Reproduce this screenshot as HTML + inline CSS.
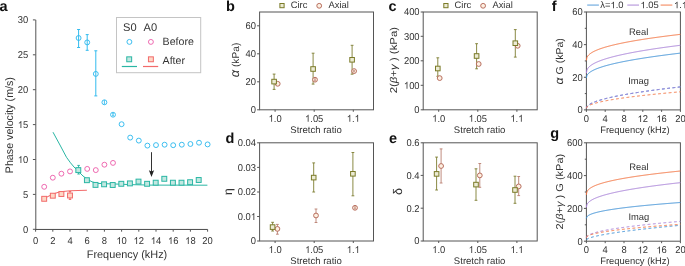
<!DOCTYPE html>
<html><head><meta charset="utf-8"><style>
html,body{margin:0;padding:0;background:#fff;overflow:hidden;width:685px;height:266px;}
svg{display:block;will-change:transform;text-rendering:geometricPrecision;}
text{font-family:"Liberation Sans",sans-serif;}
</style></head><body>
<svg width="685" height="266" viewBox="0 0 685 266" font-family="Liberation Sans, sans-serif">
<rect width="685" height="266" fill="#fff"/>
<text x="-0.50" y="10.80" font-size="14.5" text-anchor="start" fill="#111" font-weight="bold" >a</text>
<line x1="35.80" y1="19.90" x2="35.80" y2="229.95" stroke="#555" stroke-width="1" />
<line x1="35.30" y1="229.45" x2="207.60" y2="229.45" stroke="#4a4a4a" stroke-width="1" />
<line x1="32.90" y1="229.30" x2="35.60" y2="229.30" stroke="#555" stroke-width="1" />
<text x="0" y="0" font-size="9.9" fill="#333" transform="translate(23.07 232.71) scale(0.95 1)">0</text>
<line x1="32.90" y1="194.40" x2="35.60" y2="194.40" stroke="#555" stroke-width="1" />
<text x="0" y="0" font-size="9.9" fill="#333" transform="translate(23.07 197.81) scale(0.95 1)">5</text>
<line x1="32.90" y1="159.50" x2="35.60" y2="159.50" stroke="#555" stroke-width="1" />
<path d="M763 0L583 0L583 1115Q518 1055 413 995Q308 935 224 905L224 1075Q375 1145 488 1243Q601 1340 648 1430L763 1430Z" fill="#333" transform="translate(17.84 162.91) scale(0.00459 -0.00483)"/>
<text x="0" y="0" font-size="9.9" fill="#333" transform="translate(23.07 162.91) scale(0.95 1)">0</text>
<line x1="32.90" y1="124.60" x2="35.60" y2="124.60" stroke="#555" stroke-width="1" />
<path d="M763 0L583 0L583 1115Q518 1055 413 995Q308 935 224 905L224 1075Q375 1145 488 1243Q601 1340 648 1430L763 1430Z" fill="#333" transform="translate(17.84 128.01) scale(0.00459 -0.00483)"/>
<text x="0" y="0" font-size="9.9" fill="#333" transform="translate(23.07 128.01) scale(0.95 1)">5</text>
<line x1="32.90" y1="89.70" x2="35.60" y2="89.70" stroke="#555" stroke-width="1" />
<text x="0" y="0" font-size="9.9" fill="#333" transform="translate(17.84 93.11) scale(0.95 1)">20</text>
<line x1="32.90" y1="54.80" x2="35.60" y2="54.80" stroke="#555" stroke-width="1" />
<text x="0" y="0" font-size="9.9" fill="#333" transform="translate(17.84 58.21) scale(0.95 1)">25</text>
<line x1="32.90" y1="19.90" x2="35.60" y2="19.90" stroke="#555" stroke-width="1" />
<text x="0" y="0" font-size="9.9" fill="#333" transform="translate(17.84 23.31) scale(0.95 1)">30</text>
<line x1="35.60" y1="229.30" x2="35.60" y2="231.70" stroke="#555" stroke-width="1" />
<text x="0" y="0" font-size="9.9" fill="#333" transform="translate(32.98 244.01) scale(0.95 1)">0</text>
<line x1="52.80" y1="229.30" x2="52.80" y2="231.70" stroke="#555" stroke-width="1" />
<text x="0" y="0" font-size="9.9" fill="#333" transform="translate(50.18 244.01) scale(0.95 1)">2</text>
<line x1="70.00" y1="229.30" x2="70.00" y2="231.70" stroke="#555" stroke-width="1" />
<text x="0" y="0" font-size="9.9" fill="#333" transform="translate(67.38 244.01) scale(0.95 1)">4</text>
<line x1="87.20" y1="229.30" x2="87.20" y2="231.70" stroke="#555" stroke-width="1" />
<text x="0" y="0" font-size="9.9" fill="#333" transform="translate(84.58 244.01) scale(0.95 1)">6</text>
<line x1="104.40" y1="229.30" x2="104.40" y2="231.70" stroke="#555" stroke-width="1" />
<text x="0" y="0" font-size="9.9" fill="#333" transform="translate(101.78 244.01) scale(0.95 1)">8</text>
<line x1="121.60" y1="229.30" x2="121.60" y2="231.70" stroke="#555" stroke-width="1" />
<path d="M763 0L583 0L583 1115Q518 1055 413 995Q308 935 224 905L224 1075Q375 1145 488 1243Q601 1340 648 1430L763 1430Z" fill="#333" transform="translate(116.37 244.01) scale(0.00459 -0.00483)"/>
<text x="0" y="0" font-size="9.9" fill="#333" transform="translate(121.60 244.01) scale(0.95 1)">0</text>
<line x1="138.80" y1="229.30" x2="138.80" y2="231.70" stroke="#555" stroke-width="1" />
<path d="M763 0L583 0L583 1115Q518 1055 413 995Q308 935 224 905L224 1075Q375 1145 488 1243Q601 1340 648 1430L763 1430Z" fill="#333" transform="translate(133.57 244.01) scale(0.00459 -0.00483)"/>
<text x="0" y="0" font-size="9.9" fill="#333" transform="translate(138.80 244.01) scale(0.95 1)">2</text>
<line x1="156.00" y1="229.30" x2="156.00" y2="231.70" stroke="#555" stroke-width="1" />
<path d="M763 0L583 0L583 1115Q518 1055 413 995Q308 935 224 905L224 1075Q375 1145 488 1243Q601 1340 648 1430L763 1430Z" fill="#333" transform="translate(150.77 244.01) scale(0.00459 -0.00483)"/>
<text x="0" y="0" font-size="9.9" fill="#333" transform="translate(156.00 244.01) scale(0.95 1)">4</text>
<line x1="173.20" y1="229.30" x2="173.20" y2="231.70" stroke="#555" stroke-width="1" />
<path d="M763 0L583 0L583 1115Q518 1055 413 995Q308 935 224 905L224 1075Q375 1145 488 1243Q601 1340 648 1430L763 1430Z" fill="#333" transform="translate(167.97 244.01) scale(0.00459 -0.00483)"/>
<text x="0" y="0" font-size="9.9" fill="#333" transform="translate(173.20 244.01) scale(0.95 1)">6</text>
<line x1="190.40" y1="229.30" x2="190.40" y2="231.70" stroke="#555" stroke-width="1" />
<path d="M763 0L583 0L583 1115Q518 1055 413 995Q308 935 224 905L224 1075Q375 1145 488 1243Q601 1340 648 1430L763 1430Z" fill="#333" transform="translate(185.17 244.01) scale(0.00459 -0.00483)"/>
<text x="0" y="0" font-size="9.9" fill="#333" transform="translate(190.40 244.01) scale(0.95 1)">8</text>
<line x1="207.60" y1="229.30" x2="207.60" y2="231.70" stroke="#555" stroke-width="1" />
<text x="0" y="0" font-size="9.9" fill="#333" transform="translate(202.37 244.01) scale(0.95 1)">20</text>
<text x="127.00" y="257.70" font-size="10.9" text-anchor="middle" fill="#333" font-weight="normal" >Frequency (kHz)</text>
<text x="0" y="0" font-size="10.9" text-anchor="middle" fill="#333" font-weight="normal" transform="translate(12.70 125.15) rotate(-90) scale(0.98 1)" >Phase velocity (m/s)</text>
<path d="M53.00,132.20 L60.50,146.00 L66.50,157.30 L70.50,162.80 L74.00,167.00 L78.50,171.50 L83.00,176.00 L87.50,179.40 L92.00,181.80 L98.00,183.40 L108.00,183.80 L118.00,184.10 L130.00,184.60 L150.00,185.10 L207.40,185.20" stroke="#2ab6a4" stroke-width="1.0" fill="none"/>
<path d="M44.30,198.80 L46.80,197.10 L52.00,194.50 L57.60,192.50 L63.00,191.50 L70.30,190.80 L78.00,190.50 L86.90,190.30" stroke="#f26a6a" stroke-width="1.05" fill="none"/>
<line x1="78.60" y1="29.50" x2="78.60" y2="47.50" stroke="#33bbee" stroke-width="1" />
<line x1="77.10" y1="29.50" x2="80.10" y2="29.50" stroke="#33bbee" stroke-width="1" />
<line x1="77.10" y1="47.50" x2="80.10" y2="47.50" stroke="#33bbee" stroke-width="1" />
<circle cx="78.60" cy="38.00" r="2.45" stroke="#33bbee" fill="none" stroke-width="0.95"/>
<line x1="87.20" y1="34.60" x2="87.20" y2="50.30" stroke="#33bbee" stroke-width="1" />
<line x1="85.70" y1="34.60" x2="88.70" y2="34.60" stroke="#33bbee" stroke-width="1" />
<line x1="85.70" y1="50.30" x2="88.70" y2="50.30" stroke="#33bbee" stroke-width="1" />
<circle cx="87.20" cy="42.40" r="2.45" stroke="#33bbee" fill="none" stroke-width="0.95"/>
<line x1="95.80" y1="50.80" x2="95.80" y2="95.90" stroke="#33bbee" stroke-width="1" />
<line x1="94.30" y1="50.80" x2="97.30" y2="50.80" stroke="#33bbee" stroke-width="1" />
<line x1="94.30" y1="95.90" x2="97.30" y2="95.90" stroke="#33bbee" stroke-width="1" />
<circle cx="95.80" cy="73.90" r="2.45" stroke="#33bbee" fill="none" stroke-width="0.95"/>
<circle cx="104.40" cy="102.30" r="2.45" stroke="#33bbee" fill="none" stroke-width="0.95"/>
<circle cx="113.00" cy="114.70" r="2.45" stroke="#33bbee" fill="none" stroke-width="0.95"/>
<circle cx="121.60" cy="124.20" r="2.45" stroke="#33bbee" fill="none" stroke-width="0.95"/>
<circle cx="130.20" cy="137.60" r="2.45" stroke="#33bbee" fill="none" stroke-width="0.95"/>
<circle cx="138.80" cy="140.60" r="2.45" stroke="#33bbee" fill="none" stroke-width="0.95"/>
<circle cx="147.40" cy="145.60" r="2.45" stroke="#33bbee" fill="none" stroke-width="0.95"/>
<circle cx="156.00" cy="145.10" r="2.45" stroke="#33bbee" fill="none" stroke-width="0.95"/>
<circle cx="164.60" cy="144.70" r="2.45" stroke="#33bbee" fill="none" stroke-width="0.95"/>
<circle cx="173.20" cy="145.20" r="2.45" stroke="#33bbee" fill="none" stroke-width="0.95"/>
<circle cx="181.80" cy="144.70" r="2.45" stroke="#33bbee" fill="none" stroke-width="0.95"/>
<circle cx="190.40" cy="144.00" r="2.45" stroke="#33bbee" fill="none" stroke-width="0.95"/>
<circle cx="199.00" cy="142.70" r="2.45" stroke="#33bbee" fill="none" stroke-width="0.95"/>
<circle cx="207.60" cy="144.40" r="2.45" stroke="#33bbee" fill="none" stroke-width="0.95"/>
<line x1="104.40" y1="100.10" x2="104.40" y2="104.50" stroke="#33bbee" stroke-width="0.9" />
<line x1="113.00" y1="113.70" x2="113.00" y2="115.70" stroke="#33bbee" stroke-width="0.8" />
<line x1="112.00" y1="113.70" x2="114.00" y2="113.70" stroke="#33bbee" stroke-width="0.8" />
<line x1="112.00" y1="115.70" x2="114.00" y2="115.70" stroke="#33bbee" stroke-width="0.8" />
<circle cx="44.20" cy="186.80" r="2.45" stroke="#ec5aa8" fill="none" stroke-width="0.9"/>
<circle cx="52.80" cy="177.70" r="2.45" stroke="#ec5aa8" fill="none" stroke-width="0.9"/>
<circle cx="61.40" cy="173.70" r="2.45" stroke="#ec5aa8" fill="none" stroke-width="0.9"/>
<circle cx="70.00" cy="171.40" r="2.45" stroke="#ec5aa8" fill="none" stroke-width="0.9"/>
<circle cx="87.20" cy="168.90" r="2.45" stroke="#ec5aa8" fill="none" stroke-width="0.9"/>
<circle cx="95.80" cy="170.10" r="2.45" stroke="#ec5aa8" fill="none" stroke-width="0.9"/>
<circle cx="104.40" cy="164.70" r="2.45" stroke="#ec5aa8" fill="none" stroke-width="0.9"/>
<circle cx="113.00" cy="162.90" r="2.45" stroke="#ec5aa8" fill="none" stroke-width="0.9"/>
<rect x="41.75" y="196.35" width="4.9" height="4.9" stroke="#f26a6a" fill="#fdd8c6" stroke-width="1"/>
<rect x="50.35" y="193.25" width="4.9" height="4.9" stroke="#f26a6a" fill="#fdd8c6" stroke-width="1"/>
<rect x="58.95" y="191.55" width="4.9" height="4.9" stroke="#f26a6a" fill="#fdd8c6" stroke-width="1"/>
<line x1="70.00" y1="191.50" x2="70.00" y2="199.40" stroke="#f26a6a" stroke-width="1" />
<line x1="68.75" y1="191.50" x2="71.25" y2="191.50" stroke="#f26a6a" stroke-width="1" />
<line x1="68.75" y1="199.40" x2="71.25" y2="199.40" stroke="#f26a6a" stroke-width="1" />
<rect x="67.55" y="193.05" width="4.9" height="4.9" stroke="#f26a6a" fill="#fdd8c6" stroke-width="1"/>
<line x1="78.60" y1="165.40" x2="78.60" y2="174.00" stroke="#2ab6a4" stroke-width="1" />
<line x1="77.35" y1="165.40" x2="79.85" y2="165.40" stroke="#2ab6a4" stroke-width="1" />
<line x1="77.35" y1="174.00" x2="79.85" y2="174.00" stroke="#2ab6a4" stroke-width="1" />
<rect x="75.85" y="167.65" width="4.9" height="4.9" stroke="#2ab6a4" fill="#c2e8e1" stroke-width="1"/>
<rect x="84.45" y="177.75" width="4.9" height="4.9" stroke="#2ab6a4" fill="#c2e8e1" stroke-width="1"/>
<rect x="93.05" y="182.45" width="4.9" height="4.9" stroke="#2ab6a4" fill="#c2e8e1" stroke-width="1"/>
<rect x="101.65" y="181.85" width="4.9" height="4.9" stroke="#2ab6a4" fill="#c2e8e1" stroke-width="1"/>
<rect x="110.25" y="182.55" width="4.9" height="4.9" stroke="#2ab6a4" fill="#c2e8e1" stroke-width="1"/>
<rect x="118.85" y="181.35" width="4.9" height="4.9" stroke="#2ab6a4" fill="#c2e8e1" stroke-width="1"/>
<rect x="127.45" y="180.95" width="4.9" height="4.9" stroke="#2ab6a4" fill="#c2e8e1" stroke-width="1"/>
<rect x="136.05" y="179.15" width="4.9" height="4.9" stroke="#2ab6a4" fill="#c2e8e1" stroke-width="1"/>
<rect x="144.65" y="181.35" width="4.9" height="4.9" stroke="#2ab6a4" fill="#c2e8e1" stroke-width="1"/>
<rect x="153.25" y="180.25" width="4.9" height="4.9" stroke="#2ab6a4" fill="#c2e8e1" stroke-width="1"/>
<rect x="161.85" y="176.35" width="4.9" height="4.9" stroke="#2ab6a4" fill="#c2e8e1" stroke-width="1"/>
<rect x="170.45" y="180.25" width="4.9" height="4.9" stroke="#2ab6a4" fill="#c2e8e1" stroke-width="1"/>
<rect x="179.05" y="180.25" width="4.9" height="4.9" stroke="#2ab6a4" fill="#c2e8e1" stroke-width="1"/>
<rect x="187.65" y="179.75" width="4.9" height="4.9" stroke="#2ab6a4" fill="#c2e8e1" stroke-width="1"/>
<rect x="196.25" y="177.55" width="4.9" height="4.9" stroke="#2ab6a4" fill="#c2e8e1" stroke-width="1"/>
<line x1="151.50" y1="152.20" x2="151.50" y2="172.00" stroke="#333" stroke-width="1" />
<path d="M148.9,170.2 L151.5,171.6 L154.1,170.2 L151.5,177.0 Z" fill="#222"/>
<rect x="116.5" y="17.5" width="84.2" height="55.2" fill="white" stroke="#c4c4c4" stroke-width="1"/>
<text x="123.00" y="31.10" font-size="11.1" text-anchor="start" fill="#333" font-weight="normal" >S0</text>
<text x="143.60" y="31.10" font-size="11.1" text-anchor="start" fill="#333" font-weight="normal" >A0</text>
<text x="162.60" y="45.00" font-size="10.6" text-anchor="start" fill="#333" font-weight="normal" >Before</text>
<text x="162.60" y="63.80" font-size="10.6" text-anchor="start" fill="#333" font-weight="normal" >After</text>
<circle cx="129.40" cy="41.90" r="2.45" stroke="#33bbee" fill="none" stroke-width="0.95"/>
<circle cx="150.90" cy="41.90" r="2.45" stroke="#ec5aa8" fill="none" stroke-width="0.9"/>
<rect x="126.75" y="56.85" width="4.9" height="4.9" stroke="#2ab6a4" fill="#c2e8e1" stroke-width="1"/>
<rect x="148.45" y="56.85" width="4.9" height="4.9" stroke="#f26a6a" fill="#fdd8c6" stroke-width="1"/>
<line x1="121.80" y1="66.50" x2="137.00" y2="66.50" stroke="#2ab6a4" stroke-width="1.2" />
<line x1="143.00" y1="66.50" x2="158.20" y2="66.50" stroke="#f26a6a" stroke-width="1.2" />
<rect x="259.60" y="12.00" width="113.90" height="97.80" fill="none" stroke="#555" stroke-width="1"/>
<text x="226.10" y="10.60" font-size="14.5" text-anchor="start" fill="#111" font-weight="bold" >b</text>
<line x1="257.10" y1="109.80" x2="259.60" y2="109.80" stroke="#555" stroke-width="1" />
<text x="0" y="0" font-size="9.9" fill="#333" transform="translate(250.77 113.21) scale(0.95 1)">0</text>
<line x1="257.10" y1="81.80" x2="259.60" y2="81.80" stroke="#555" stroke-width="1" />
<text x="0" y="0" font-size="9.9" fill="#333" transform="translate(245.54 85.21) scale(0.95 1)">20</text>
<line x1="257.10" y1="53.80" x2="259.60" y2="53.80" stroke="#555" stroke-width="1" />
<text x="0" y="0" font-size="9.9" fill="#333" transform="translate(245.54 57.21) scale(0.95 1)">40</text>
<line x1="257.10" y1="25.80" x2="259.60" y2="25.80" stroke="#555" stroke-width="1" />
<text x="0" y="0" font-size="9.9" fill="#333" transform="translate(245.54 29.21) scale(0.95 1)">60</text>
<line x1="275.10" y1="109.80" x2="275.10" y2="111.80" stroke="#555" stroke-width="1" />
<path d="M763 0L583 0L583 1115Q518 1055 413 995Q308 935 224 905L224 1075Q375 1145 488 1243Q601 1340 648 1430L763 1430Z" fill="#333" transform="translate(268.56 121.71) scale(0.00459 -0.00483)"/>
<text x="0" y="0" font-size="9.9" fill="#333" transform="translate(273.79 121.71) scale(0.95 1)">.0</text>
<line x1="314.20" y1="109.80" x2="314.20" y2="111.80" stroke="#555" stroke-width="1" />
<path d="M763 0L583 0L583 1115Q518 1055 413 995Q308 935 224 905L224 1075Q375 1145 488 1243Q601 1340 648 1430L763 1430Z" fill="#333" transform="translate(305.05 121.71) scale(0.00459 -0.00483)"/>
<text x="0" y="0" font-size="9.9" fill="#333" transform="translate(310.28 121.71) scale(0.95 1)">.05</text>
<line x1="353.30" y1="109.80" x2="353.30" y2="111.80" stroke="#555" stroke-width="1" />
<path d="M763 0L583 0L583 1115Q518 1055 413 995Q308 935 224 905L224 1075Q375 1145 488 1243Q601 1340 648 1430L763 1430Z" fill="#333" transform="translate(346.76 121.71) scale(0.00459 -0.00483)"/>
<text x="0" y="0" font-size="9.9" fill="#333" transform="translate(351.99 121.71) scale(0.95 1)">.</text>
<path d="M763 0L583 0L583 1115Q518 1055 413 995Q308 935 224 905L224 1075Q375 1145 488 1243Q601 1340 648 1430L763 1430Z" fill="#333" transform="translate(354.61 121.71) scale(0.00459 -0.00483)"/>
<text x="316.00" y="133.39" font-size="9.55" text-anchor="middle" fill="#333" font-weight="normal" >Stretch ratio</text>
<rect x="279.90" y="3.50" width="4.2" height="4.2" stroke="#7b7b28" fill="#ecebd4" stroke-width="1"/>
<text x="290.70" y="8.30" font-size="9.4" text-anchor="start" fill="#333" font-weight="normal" >Circ</text>
<circle cx="319.20" cy="5.80" r="2.4" stroke="#b86e5e" fill="#fdf0e2" stroke-width="1"/>
<text x="328.50" y="8.30" font-size="9.4" text-anchor="start" fill="#333" font-weight="normal" >Axial</text>
<text x="0" y="0" font-size="10.0" text-anchor="middle" fill="#333" font-weight="normal" transform="translate(239.00 60.00) rotate(-90) scale(1.02 1)" ><tspan font-style="italic" font-size="12.6">α</tspan> (kPa)</text>
<line x1="274.10" y1="74.10" x2="274.10" y2="89.40" stroke="#7d7d30" stroke-width="0.9" />
<line x1="272.70" y1="74.10" x2="275.50" y2="74.10" stroke="#7d7d30" stroke-width="0.9" />
<line x1="272.70" y1="89.40" x2="275.50" y2="89.40" stroke="#7d7d30" stroke-width="0.9" />
<line x1="313.10" y1="53.20" x2="313.10" y2="84.10" stroke="#7d7d30" stroke-width="0.9" />
<line x1="311.70" y1="53.20" x2="314.50" y2="53.20" stroke="#7d7d30" stroke-width="0.9" />
<line x1="311.70" y1="84.10" x2="314.50" y2="84.10" stroke="#7d7d30" stroke-width="0.9" />
<line x1="352.10" y1="45.30" x2="352.10" y2="74.20" stroke="#7d7d30" stroke-width="0.9" />
<line x1="350.70" y1="45.30" x2="353.50" y2="45.30" stroke="#7d7d30" stroke-width="0.9" />
<line x1="350.70" y1="74.20" x2="353.50" y2="74.20" stroke="#7d7d30" stroke-width="0.9" />
<circle cx="277.70" cy="83.80" r="2.4" stroke="#b86e5e" fill="#fdf0e2" stroke-width="1"/>
<circle cx="315.00" cy="79.70" r="2.4" stroke="#b86e5e" fill="#fdf0e2" stroke-width="1"/>
<circle cx="354.10" cy="71.10" r="2.4" stroke="#b86e5e" fill="#fdf0e2" stroke-width="1"/>
<line x1="315.00" y1="78.80" x2="315.00" y2="80.80" stroke="#b97f70" stroke-width="0.8" />
<line x1="314.20" y1="78.80" x2="315.80" y2="78.80" stroke="#b97f70" stroke-width="0.8" />
<line x1="314.20" y1="80.80" x2="315.80" y2="80.80" stroke="#b97f70" stroke-width="0.8" />
<line x1="354.00" y1="70.60" x2="354.00" y2="71.80" stroke="#b97f70" stroke-width="0.8" />
<line x1="353.20" y1="70.60" x2="354.80" y2="70.60" stroke="#b97f70" stroke-width="0.8" />
<line x1="353.20" y1="71.80" x2="354.80" y2="71.80" stroke="#b97f70" stroke-width="0.8" />
<rect x="271.80" y="79.30" width="4.6" height="4.6" stroke="#7b7b28" fill="#ecebd4" stroke-width="1"/>
<rect x="310.80" y="66.70" width="4.6" height="4.6" stroke="#7b7b28" fill="#ecebd4" stroke-width="1"/>
<rect x="349.80" y="57.50" width="4.6" height="4.6" stroke="#7b7b28" fill="#ecebd4" stroke-width="1"/>
<rect x="423.20" y="12.00" width="114.00" height="97.80" fill="none" stroke="#555" stroke-width="1"/>
<text x="388.60" y="10.80" font-size="14.5" text-anchor="start" fill="#111" font-weight="bold" >c</text>
<line x1="420.70" y1="109.80" x2="423.20" y2="109.80" stroke="#555" stroke-width="1" />
<text x="0" y="0" font-size="9.9" fill="#333" transform="translate(414.37 113.21) scale(0.95 1)">0</text>
<line x1="420.70" y1="85.30" x2="423.20" y2="85.30" stroke="#555" stroke-width="1" />
<path d="M763 0L583 0L583 1115Q518 1055 413 995Q308 935 224 905L224 1075Q375 1145 488 1243Q601 1340 648 1430L763 1430Z" fill="#333" transform="translate(403.91 88.71) scale(0.00459 -0.00483)"/>
<text x="0" y="0" font-size="9.9" fill="#333" transform="translate(409.14 88.71) scale(0.95 1)">00</text>
<line x1="420.70" y1="60.80" x2="423.20" y2="60.80" stroke="#555" stroke-width="1" />
<text x="0" y="0" font-size="9.9" fill="#333" transform="translate(403.91 64.21) scale(0.95 1)">200</text>
<line x1="420.70" y1="36.30" x2="423.20" y2="36.30" stroke="#555" stroke-width="1" />
<text x="0" y="0" font-size="9.9" fill="#333" transform="translate(403.91 39.71) scale(0.95 1)">300</text>
<line x1="420.70" y1="12.00" x2="423.20" y2="12.00" stroke="#555" stroke-width="1" />
<text x="0" y="0" font-size="9.9" fill="#333" transform="translate(403.91 15.41) scale(0.95 1)">400</text>
<line x1="438.70" y1="109.80" x2="438.70" y2="111.80" stroke="#555" stroke-width="1" />
<path d="M763 0L583 0L583 1115Q518 1055 413 995Q308 935 224 905L224 1075Q375 1145 488 1243Q601 1340 648 1430L763 1430Z" fill="#333" transform="translate(432.16 121.71) scale(0.00459 -0.00483)"/>
<text x="0" y="0" font-size="9.9" fill="#333" transform="translate(437.39 121.71) scale(0.95 1)">.0</text>
<line x1="477.80" y1="109.80" x2="477.80" y2="111.80" stroke="#555" stroke-width="1" />
<path d="M763 0L583 0L583 1115Q518 1055 413 995Q308 935 224 905L224 1075Q375 1145 488 1243Q601 1340 648 1430L763 1430Z" fill="#333" transform="translate(468.65 121.71) scale(0.00459 -0.00483)"/>
<text x="0" y="0" font-size="9.9" fill="#333" transform="translate(473.88 121.71) scale(0.95 1)">.05</text>
<line x1="516.90" y1="109.80" x2="516.90" y2="111.80" stroke="#555" stroke-width="1" />
<path d="M763 0L583 0L583 1115Q518 1055 413 995Q308 935 224 905L224 1075Q375 1145 488 1243Q601 1340 648 1430L763 1430Z" fill="#333" transform="translate(510.36 121.71) scale(0.00459 -0.00483)"/>
<text x="0" y="0" font-size="9.9" fill="#333" transform="translate(515.59 121.71) scale(0.95 1)">.</text>
<path d="M763 0L583 0L583 1115Q518 1055 413 995Q308 935 224 905L224 1075Q375 1145 488 1243Q601 1340 648 1430L763 1430Z" fill="#333" transform="translate(518.21 121.71) scale(0.00459 -0.00483)"/>
<text x="479.60" y="133.39" font-size="9.55" text-anchor="middle" fill="#333" font-weight="normal" >Stretch ratio</text>
<rect x="443.80" y="3.50" width="4.2" height="4.2" stroke="#7b7b28" fill="#ecebd4" stroke-width="1"/>
<text x="454.60" y="8.30" font-size="9.4" text-anchor="start" fill="#333" font-weight="normal" >Circ</text>
<circle cx="483.10" cy="5.80" r="2.4" stroke="#b86e5e" fill="#fdf0e2" stroke-width="1"/>
<text x="492.40" y="8.30" font-size="9.4" text-anchor="start" fill="#333" font-weight="normal" >Axial</text>
<text x="0" y="0" font-size="10.0" text-anchor="middle" fill="#333" font-weight="normal" transform="translate(397.30 60.10) rotate(-90) scale(1.14 1)" >2(<tspan font-style="italic">β</tspan>+<tspan font-style="italic">γ</tspan> ) (kPa)</text>
<line x1="437.80" y1="57.80" x2="437.80" y2="76.30" stroke="#7d7d30" stroke-width="0.9" />
<line x1="436.40" y1="57.80" x2="439.20" y2="57.80" stroke="#7d7d30" stroke-width="0.9" />
<line x1="436.40" y1="76.30" x2="439.20" y2="76.30" stroke="#7d7d30" stroke-width="0.9" />
<line x1="476.60" y1="43.70" x2="476.60" y2="68.80" stroke="#7d7d30" stroke-width="0.9" />
<line x1="475.20" y1="43.70" x2="478.00" y2="43.70" stroke="#7d7d30" stroke-width="0.9" />
<line x1="475.20" y1="68.80" x2="478.00" y2="68.80" stroke="#7d7d30" stroke-width="0.9" />
<line x1="515.30" y1="29.60" x2="515.30" y2="57.10" stroke="#7d7d30" stroke-width="0.9" />
<line x1="513.90" y1="29.60" x2="516.70" y2="29.60" stroke="#7d7d30" stroke-width="0.9" />
<line x1="513.90" y1="57.10" x2="516.70" y2="57.10" stroke="#7d7d30" stroke-width="0.9" />
<circle cx="439.70" cy="78.10" r="2.4" stroke="#b86e5e" fill="#fdf0e2" stroke-width="1"/>
<circle cx="478.70" cy="64.00" r="2.4" stroke="#b86e5e" fill="#fdf0e2" stroke-width="1"/>
<circle cx="517.70" cy="45.80" r="2.4" stroke="#b86e5e" fill="#fdf0e2" stroke-width="1"/>
<rect x="435.50" y="66.20" width="4.6" height="4.6" stroke="#7b7b28" fill="#ecebd4" stroke-width="1"/>
<rect x="474.30" y="53.70" width="4.6" height="4.6" stroke="#7b7b28" fill="#ecebd4" stroke-width="1"/>
<rect x="513.00" y="40.90" width="4.6" height="4.6" stroke="#7b7b28" fill="#ecebd4" stroke-width="1"/>
<rect x="259.60" y="142.80" width="113.90" height="98.20" fill="none" stroke="#555" stroke-width="1"/>
<text x="225.60" y="142.80" font-size="14.5" text-anchor="start" fill="#111" font-weight="bold" >d</text>
<line x1="257.10" y1="241.00" x2="259.60" y2="241.00" stroke="#555" stroke-width="1" />
<text x="0" y="0" font-size="9.9" fill="#333" transform="translate(250.77 244.41) scale(0.95 1)">0</text>
<line x1="257.10" y1="216.50" x2="259.60" y2="216.50" stroke="#555" stroke-width="1" />
<text x="0" y="0" font-size="9.9" fill="#333" transform="translate(237.70 219.91) scale(0.95 1)">0.0</text>
<path d="M763 0L583 0L583 1115Q518 1055 413 995Q308 935 224 905L224 1075Q375 1145 488 1243Q601 1340 648 1430L763 1430Z" fill="#333" transform="translate(250.77 219.91) scale(0.00459 -0.00483)"/>
<line x1="257.10" y1="192.00" x2="259.60" y2="192.00" stroke="#555" stroke-width="1" />
<text x="0" y="0" font-size="9.9" fill="#333" transform="translate(237.70 195.41) scale(0.95 1)">0.02</text>
<line x1="257.10" y1="167.40" x2="259.60" y2="167.40" stroke="#555" stroke-width="1" />
<text x="0" y="0" font-size="9.9" fill="#333" transform="translate(237.70 170.81) scale(0.95 1)">0.03</text>
<line x1="257.10" y1="142.80" x2="259.60" y2="142.80" stroke="#555" stroke-width="1" />
<text x="0" y="0" font-size="9.9" fill="#333" transform="translate(237.70 146.21) scale(0.95 1)">0.04</text>
<line x1="275.10" y1="241.00" x2="275.10" y2="243.00" stroke="#555" stroke-width="1" />
<path d="M763 0L583 0L583 1115Q518 1055 413 995Q308 935 224 905L224 1075Q375 1145 488 1243Q601 1340 648 1430L763 1430Z" fill="#333" transform="translate(268.56 252.91) scale(0.00459 -0.00483)"/>
<text x="0" y="0" font-size="9.9" fill="#333" transform="translate(273.79 252.91) scale(0.95 1)">.0</text>
<line x1="314.20" y1="241.00" x2="314.20" y2="243.00" stroke="#555" stroke-width="1" />
<path d="M763 0L583 0L583 1115Q518 1055 413 995Q308 935 224 905L224 1075Q375 1145 488 1243Q601 1340 648 1430L763 1430Z" fill="#333" transform="translate(305.05 252.91) scale(0.00459 -0.00483)"/>
<text x="0" y="0" font-size="9.9" fill="#333" transform="translate(310.28 252.91) scale(0.95 1)">.05</text>
<line x1="353.30" y1="241.00" x2="353.30" y2="243.00" stroke="#555" stroke-width="1" />
<path d="M763 0L583 0L583 1115Q518 1055 413 995Q308 935 224 905L224 1075Q375 1145 488 1243Q601 1340 648 1430L763 1430Z" fill="#333" transform="translate(346.76 252.91) scale(0.00459 -0.00483)"/>
<text x="0" y="0" font-size="9.9" fill="#333" transform="translate(351.99 252.91) scale(0.95 1)">.</text>
<path d="M763 0L583 0L583 1115Q518 1055 413 995Q308 935 224 905L224 1075Q375 1145 488 1243Q601 1340 648 1430L763 1430Z" fill="#333" transform="translate(354.61 252.91) scale(0.00459 -0.00483)"/>
<text x="316.00" y="263.69" font-size="9.55" text-anchor="middle" fill="#333" font-weight="normal" >Stretch ratio</text>
<text x="232.40" y="191.60" font-size="12" text-anchor="middle" fill="#333" font-weight="normal" transform="rotate(-90 232.40 191.60)" >η</text>
<line x1="272.60" y1="222.30" x2="272.60" y2="231.00" stroke="#7d7d30" stroke-width="0.9" />
<line x1="271.20" y1="222.30" x2="274.00" y2="222.30" stroke="#7d7d30" stroke-width="0.9" />
<line x1="271.20" y1="231.00" x2="274.00" y2="231.00" stroke="#7d7d30" stroke-width="0.9" />
<line x1="277.40" y1="224.40" x2="277.40" y2="234.20" stroke="#b97f70" stroke-width="0.9" />
<line x1="276.00" y1="224.40" x2="278.80" y2="224.40" stroke="#b97f70" stroke-width="0.9" />
<line x1="276.00" y1="234.20" x2="278.80" y2="234.20" stroke="#b97f70" stroke-width="0.9" />
<line x1="313.70" y1="162.90" x2="313.70" y2="192.00" stroke="#7d7d30" stroke-width="0.9" />
<line x1="312.30" y1="162.90" x2="315.10" y2="162.90" stroke="#7d7d30" stroke-width="0.9" />
<line x1="312.30" y1="192.00" x2="315.10" y2="192.00" stroke="#7d7d30" stroke-width="0.9" />
<line x1="316.00" y1="209.00" x2="316.00" y2="222.50" stroke="#b97f70" stroke-width="0.9" />
<line x1="314.60" y1="209.00" x2="317.40" y2="209.00" stroke="#b97f70" stroke-width="0.9" />
<line x1="314.60" y1="222.50" x2="317.40" y2="222.50" stroke="#b97f70" stroke-width="0.9" />
<line x1="352.90" y1="152.50" x2="352.90" y2="195.80" stroke="#7d7d30" stroke-width="0.9" />
<line x1="351.50" y1="152.50" x2="354.30" y2="152.50" stroke="#7d7d30" stroke-width="0.9" />
<line x1="351.50" y1="195.80" x2="354.30" y2="195.80" stroke="#7d7d30" stroke-width="0.9" />
<circle cx="277.40" cy="228.90" r="2.4" stroke="#b86e5e" fill="#fdf0e2" stroke-width="1"/>
<circle cx="316.00" cy="215.50" r="2.4" stroke="#b86e5e" fill="#fdf0e2" stroke-width="1"/>
<circle cx="355.00" cy="207.80" r="2.4" stroke="#b86e5e" fill="#fdf0e2" stroke-width="1"/>
<line x1="355.00" y1="206.80" x2="355.00" y2="208.80" stroke="#b97f70" stroke-width="0.8" />
<line x1="354.20" y1="206.80" x2="355.80" y2="206.80" stroke="#b97f70" stroke-width="0.8" />
<line x1="354.20" y1="208.80" x2="355.80" y2="208.80" stroke="#b97f70" stroke-width="0.8" />
<rect x="270.30" y="224.80" width="4.6" height="4.6" stroke="#7b7b28" fill="#ecebd4" stroke-width="1"/>
<rect x="311.40" y="175.30" width="4.6" height="4.6" stroke="#7b7b28" fill="#ecebd4" stroke-width="1"/>
<rect x="350.60" y="171.50" width="4.6" height="4.6" stroke="#7b7b28" fill="#ecebd4" stroke-width="1"/>
<rect x="423.20" y="142.80" width="114.00" height="98.20" fill="none" stroke="#555" stroke-width="1"/>
<text x="389.00" y="142.70" font-size="14.5" text-anchor="start" fill="#111" font-weight="bold" >e</text>
<line x1="420.70" y1="241.00" x2="423.20" y2="241.00" stroke="#555" stroke-width="1" />
<text x="0" y="0" font-size="9.9" fill="#333" transform="translate(414.37 244.41) scale(0.95 1)">0</text>
<line x1="420.70" y1="208.20" x2="423.20" y2="208.20" stroke="#555" stroke-width="1" />
<text x="0" y="0" font-size="9.9" fill="#333" transform="translate(406.53 211.61) scale(0.95 1)">0.2</text>
<line x1="420.70" y1="175.40" x2="423.20" y2="175.40" stroke="#555" stroke-width="1" />
<text x="0" y="0" font-size="9.9" fill="#333" transform="translate(406.53 178.81) scale(0.95 1)">0.4</text>
<line x1="420.70" y1="142.80" x2="423.20" y2="142.80" stroke="#555" stroke-width="1" />
<text x="0" y="0" font-size="9.9" fill="#333" transform="translate(406.53 146.21) scale(0.95 1)">0.6</text>
<line x1="438.70" y1="241.00" x2="438.70" y2="243.00" stroke="#555" stroke-width="1" />
<path d="M763 0L583 0L583 1115Q518 1055 413 995Q308 935 224 905L224 1075Q375 1145 488 1243Q601 1340 648 1430L763 1430Z" fill="#333" transform="translate(432.16 252.91) scale(0.00459 -0.00483)"/>
<text x="0" y="0" font-size="9.9" fill="#333" transform="translate(437.39 252.91) scale(0.95 1)">.0</text>
<line x1="477.80" y1="241.00" x2="477.80" y2="243.00" stroke="#555" stroke-width="1" />
<path d="M763 0L583 0L583 1115Q518 1055 413 995Q308 935 224 905L224 1075Q375 1145 488 1243Q601 1340 648 1430L763 1430Z" fill="#333" transform="translate(468.65 252.91) scale(0.00459 -0.00483)"/>
<text x="0" y="0" font-size="9.9" fill="#333" transform="translate(473.88 252.91) scale(0.95 1)">.05</text>
<line x1="516.90" y1="241.00" x2="516.90" y2="243.00" stroke="#555" stroke-width="1" />
<path d="M763 0L583 0L583 1115Q518 1055 413 995Q308 935 224 905L224 1075Q375 1145 488 1243Q601 1340 648 1430L763 1430Z" fill="#333" transform="translate(510.36 252.91) scale(0.00459 -0.00483)"/>
<text x="0" y="0" font-size="9.9" fill="#333" transform="translate(515.59 252.91) scale(0.95 1)">.</text>
<path d="M763 0L583 0L583 1115Q518 1055 413 995Q308 935 224 905L224 1075Q375 1145 488 1243Q601 1340 648 1430L763 1430Z" fill="#333" transform="translate(518.21 252.91) scale(0.00459 -0.00483)"/>
<text x="479.60" y="263.69" font-size="9.55" text-anchor="middle" fill="#333" font-weight="normal" >Stretch ratio</text>
<text x="402.30" y="191.50" font-size="12.5" text-anchor="middle" fill="#333" font-weight="normal" transform="rotate(-90 402.30 191.50)" >δ</text>
<line x1="436.60" y1="157.10" x2="436.60" y2="190.00" stroke="#7d7d30" stroke-width="0.9" />
<line x1="435.20" y1="157.10" x2="438.00" y2="157.10" stroke="#7d7d30" stroke-width="0.9" />
<line x1="435.20" y1="190.00" x2="438.00" y2="190.00" stroke="#7d7d30" stroke-width="0.9" />
<line x1="441.10" y1="148.90" x2="441.10" y2="183.00" stroke="#b97f70" stroke-width="0.9" />
<line x1="439.70" y1="148.90" x2="442.50" y2="148.90" stroke="#b97f70" stroke-width="0.9" />
<line x1="439.70" y1="183.00" x2="442.50" y2="183.00" stroke="#b97f70" stroke-width="0.9" />
<line x1="476.00" y1="168.80" x2="476.00" y2="200.30" stroke="#7d7d30" stroke-width="0.9" />
<line x1="474.60" y1="168.80" x2="477.40" y2="168.80" stroke="#7d7d30" stroke-width="0.9" />
<line x1="474.60" y1="200.30" x2="477.40" y2="200.30" stroke="#7d7d30" stroke-width="0.9" />
<line x1="479.80" y1="163.50" x2="479.80" y2="187.30" stroke="#b97f70" stroke-width="0.9" />
<line x1="478.40" y1="163.50" x2="481.20" y2="163.50" stroke="#b97f70" stroke-width="0.9" />
<line x1="478.40" y1="187.30" x2="481.20" y2="187.30" stroke="#b97f70" stroke-width="0.9" />
<line x1="515.00" y1="176.20" x2="515.00" y2="203.30" stroke="#7d7d30" stroke-width="0.9" />
<line x1="513.60" y1="176.20" x2="516.40" y2="176.20" stroke="#7d7d30" stroke-width="0.9" />
<line x1="513.60" y1="203.30" x2="516.40" y2="203.30" stroke="#7d7d30" stroke-width="0.9" />
<line x1="518.70" y1="176.50" x2="518.70" y2="195.60" stroke="#b97f70" stroke-width="0.9" />
<line x1="517.30" y1="176.50" x2="520.10" y2="176.50" stroke="#b97f70" stroke-width="0.9" />
<line x1="517.30" y1="195.60" x2="520.10" y2="195.60" stroke="#b97f70" stroke-width="0.9" />
<circle cx="441.10" cy="166.00" r="2.4" stroke="#b86e5e" fill="#fdf0e2" stroke-width="1"/>
<circle cx="479.80" cy="175.40" r="2.4" stroke="#b86e5e" fill="#fdf0e2" stroke-width="1"/>
<circle cx="518.70" cy="186.40" r="2.4" stroke="#b86e5e" fill="#fdf0e2" stroke-width="1"/>
<rect x="434.30" y="171.60" width="4.6" height="4.6" stroke="#7b7b28" fill="#ecebd4" stroke-width="1"/>
<rect x="473.70" y="182.30" width="4.6" height="4.6" stroke="#7b7b28" fill="#ecebd4" stroke-width="1"/>
<rect x="512.70" y="187.70" width="4.6" height="4.6" stroke="#7b7b28" fill="#ecebd4" stroke-width="1"/>
<rect x="586.40" y="12.00" width="94.00" height="97.90" fill="none" stroke="#555" stroke-width="1"/>
<line x1="584.80" y1="93.58" x2="586.40" y2="93.58" stroke="#555" stroke-width="1" />
<line x1="584.80" y1="60.95" x2="586.40" y2="60.95" stroke="#555" stroke-width="1" />
<line x1="584.80" y1="28.32" x2="586.40" y2="28.32" stroke="#555" stroke-width="1" />
<line x1="583.90" y1="109.90" x2="586.40" y2="109.90" stroke="#555" stroke-width="1" />
<text x="0" y="0" font-size="9.9" fill="#333" transform="translate(577.57 113.31) scale(0.95 1)">0</text>
<line x1="583.90" y1="77.27" x2="586.40" y2="77.27" stroke="#555" stroke-width="1" />
<text x="0" y="0" font-size="9.9" fill="#333" transform="translate(572.34 80.67) scale(0.95 1)">20</text>
<line x1="583.90" y1="44.63" x2="586.40" y2="44.63" stroke="#555" stroke-width="1" />
<text x="0" y="0" font-size="9.9" fill="#333" transform="translate(572.34 48.04) scale(0.95 1)">40</text>
<line x1="583.90" y1="12.00" x2="586.40" y2="12.00" stroke="#555" stroke-width="1" />
<text x="0" y="0" font-size="9.9" fill="#333" transform="translate(572.34 15.41) scale(0.95 1)">60</text>
<line x1="586.40" y1="109.90" x2="586.40" y2="111.90" stroke="#555" stroke-width="1" />
<text x="0" y="0" font-size="9.9" fill="#333" transform="translate(583.78 122.11) scale(0.95 1)">0</text>
<line x1="605.20" y1="109.90" x2="605.20" y2="111.90" stroke="#555" stroke-width="1" />
<text x="0" y="0" font-size="9.9" fill="#333" transform="translate(602.58 122.11) scale(0.95 1)">4</text>
<line x1="624.00" y1="109.90" x2="624.00" y2="111.90" stroke="#555" stroke-width="1" />
<text x="0" y="0" font-size="9.9" fill="#333" transform="translate(621.38 122.11) scale(0.95 1)">8</text>
<line x1="642.80" y1="109.90" x2="642.80" y2="111.90" stroke="#555" stroke-width="1" />
<path d="M763 0L583 0L583 1115Q518 1055 413 995Q308 935 224 905L224 1075Q375 1145 488 1243Q601 1340 648 1430L763 1430Z" fill="#333" transform="translate(637.57 122.11) scale(0.00459 -0.00483)"/>
<text x="0" y="0" font-size="9.9" fill="#333" transform="translate(642.80 122.11) scale(0.95 1)">2</text>
<line x1="661.60" y1="109.90" x2="661.60" y2="111.90" stroke="#555" stroke-width="1" />
<path d="M763 0L583 0L583 1115Q518 1055 413 995Q308 935 224 905L224 1075Q375 1145 488 1243Q601 1340 648 1430L763 1430Z" fill="#333" transform="translate(656.37 122.11) scale(0.00459 -0.00483)"/>
<text x="0" y="0" font-size="9.9" fill="#333" transform="translate(661.60 122.11) scale(0.95 1)">6</text>
<line x1="680.40" y1="109.90" x2="680.40" y2="111.90" stroke="#555" stroke-width="1" />
<text x="0" y="0" font-size="9.9" fill="#333" transform="translate(675.17 122.11) scale(0.95 1)">20</text>
<text x="634.90" y="133.23" font-size="9.4" text-anchor="middle" fill="#333" font-weight="normal" >Frequency (kHz)</text>
<text x="551.80" y="10.80" font-size="14.5" text-anchor="start" fill="#111" font-weight="bold" >f</text>
<text x="0" y="0" font-size="10.0" text-anchor="middle" fill="#333" font-weight="normal" transform="translate(563.20 61.30) rotate(-90) scale(1.056 1)" ><tspan font-style="italic" font-size="11.6">α</tspan> G (kPa)</text>
<path d="M586.40,77.92 L586.87,75.63 L587.34,74.80 L587.81,74.17 L588.28,73.65 L588.75,73.20 L589.22,72.80 L589.69,72.43 L590.16,72.09 L590.63,71.78 L591.10,71.48 L591.57,71.20 L592.04,70.93 L592.51,70.67 L592.98,70.42 L593.45,70.19 L593.92,69.96 L594.39,69.74 L594.86,69.53 L595.33,69.32 L595.80,69.12 L596.27,68.92 L596.74,68.73 L597.21,68.55 L597.68,68.37 L598.15,68.19 L598.62,68.02 L599.09,67.85 L599.56,67.68 L600.03,67.52 L600.50,67.36 L600.97,67.20 L601.44,67.05 L601.91,66.90 L602.38,66.75 L602.85,66.60 L603.32,66.46 L603.79,66.31 L604.26,66.17 L604.73,66.03 L605.20,65.90 L605.67,65.76 L606.14,65.63 L606.61,65.50 L607.08,65.37 L607.55,65.24 L608.02,65.12 L608.49,64.99 L608.96,64.87 L609.43,64.75 L609.90,64.63 L610.37,64.51 L610.84,64.39 L611.31,64.28 L611.78,64.16 L612.25,64.05 L612.72,63.93 L613.19,63.82 L613.66,63.71 L614.13,63.60 L614.60,63.49 L615.07,63.38 L615.54,63.28 L616.01,63.17 L616.48,63.07 L616.95,62.96 L617.42,62.86 L617.89,62.76 L618.36,62.66 L618.83,62.56 L619.30,62.46 L619.77,62.36 L620.24,62.26 L620.71,62.16 L621.18,62.06 L621.65,61.97 L622.12,61.87 L622.59,61.78 L623.06,61.68 L623.53,61.59 L624.00,61.50 L624.47,61.41 L624.94,61.31 L625.41,61.22 L625.88,61.13 L626.35,61.04 L626.82,60.96 L627.29,60.87 L627.76,60.78 L628.23,60.69 L628.70,60.60 L629.17,60.52 L629.64,60.43 L630.11,60.35 L630.58,60.26 L631.05,60.18 L631.52,60.09 L631.99,60.01 L632.46,59.93 L632.93,59.85 L633.40,59.76 L633.87,59.68 L634.34,59.60 L634.81,59.52 L635.28,59.44 L635.75,59.36 L636.22,59.28 L636.69,59.20 L637.16,59.12 L637.63,59.05 L638.10,58.97 L638.57,58.89 L639.04,58.81 L639.51,58.74 L639.98,58.66 L640.45,58.59 L640.92,58.51 L641.39,58.43 L641.86,58.36 L642.33,58.29 L642.80,58.21 L643.27,58.14 L643.74,58.06 L644.21,57.99 L644.68,57.92 L645.15,57.85 L645.62,57.77 L646.09,57.70 L646.56,57.63 L647.03,57.56 L647.50,57.49 L647.97,57.42 L648.44,57.35 L648.91,57.28 L649.38,57.21 L649.85,57.14 L650.32,57.07 L650.79,57.00 L651.26,56.93 L651.73,56.86 L652.20,56.80 L652.67,56.73 L653.14,56.66 L653.61,56.59 L654.08,56.53 L654.55,56.46 L655.02,56.39 L655.49,56.33 L655.96,56.26 L656.43,56.20 L656.90,56.13 L657.37,56.06 L657.84,56.00 L658.31,55.93 L658.78,55.87 L659.25,55.81 L659.72,55.74 L660.19,55.68 L660.66,55.61 L661.13,55.55 L661.60,55.49 L662.07,55.42 L662.54,55.36 L663.01,55.30 L663.48,55.24 L663.95,55.17 L664.42,55.11 L664.89,55.05 L665.36,54.99 L665.83,54.93 L666.30,54.87 L666.77,54.81 L667.24,54.75 L667.71,54.68 L668.18,54.62 L668.65,54.56 L669.12,54.50 L669.59,54.44 L670.06,54.39 L670.53,54.33 L671.00,54.27 L671.47,54.21 L671.94,54.15 L672.41,54.09 L672.88,54.03 L673.35,53.97 L673.82,53.91 L674.29,53.86 L674.76,53.80 L675.23,53.74 L675.70,53.68 L676.17,53.63 L676.64,53.57 L677.11,53.51 L677.58,53.46 L678.05,53.40 L678.52,53.34 L678.99,53.29 L679.46,53.23 L679.93,53.17 L680.40,53.12" stroke="#3a8fd6" stroke-width="1.0" fill="none"/>
<path d="M586.40,73.19 L586.87,70.17 L587.34,69.15 L587.81,68.41 L588.28,67.79 L588.75,67.26 L589.22,66.79 L589.69,66.36 L590.16,65.97 L590.63,65.60 L591.10,65.26 L591.57,64.94 L592.04,64.63 L592.51,64.34 L592.98,64.06 L593.45,63.79 L593.92,63.53 L594.39,63.28 L594.86,63.04 L595.33,62.81 L595.80,62.58 L596.27,62.36 L596.74,62.15 L597.21,61.94 L597.68,61.74 L598.15,61.54 L598.62,61.34 L599.09,61.15 L599.56,60.97 L600.03,60.79 L600.50,60.61 L600.97,60.44 L601.44,60.26 L601.91,60.10 L602.38,59.93 L602.85,59.77 L603.32,59.61 L603.79,59.45 L604.26,59.30 L604.73,59.15 L605.20,58.99 L605.67,58.85 L606.14,58.70 L606.61,58.56 L607.08,58.42 L607.55,58.28 L608.02,58.14 L608.49,58.00 L608.96,57.87 L609.43,57.73 L609.90,57.60 L610.37,57.47 L610.84,57.34 L611.31,57.21 L611.78,57.09 L612.25,56.96 L612.72,56.84 L613.19,56.72 L613.66,56.60 L614.13,56.48 L614.60,56.36 L615.07,56.24 L615.54,56.13 L616.01,56.01 L616.48,55.90 L616.95,55.78 L617.42,55.67 L617.89,55.56 L618.36,55.45 L618.83,55.34 L619.30,55.23 L619.77,55.13 L620.24,55.02 L620.71,54.92 L621.18,54.81 L621.65,54.71 L622.12,54.60 L622.59,54.50 L623.06,54.40 L623.53,54.30 L624.00,54.20 L624.47,54.10 L624.94,54.00 L625.41,53.90 L625.88,53.81 L626.35,53.71 L626.82,53.61 L627.29,53.52 L627.76,53.42 L628.23,53.33 L628.70,53.24 L629.17,53.14 L629.64,53.05 L630.11,52.96 L630.58,52.87 L631.05,52.78 L631.52,52.69 L631.99,52.60 L632.46,52.51 L632.93,52.42 L633.40,52.33 L633.87,52.25 L634.34,52.16 L634.81,52.07 L635.28,51.99 L635.75,51.90 L636.22,51.82 L636.69,51.73 L637.16,51.65 L637.63,51.56 L638.10,51.48 L638.57,51.40 L639.04,51.32 L639.51,51.23 L639.98,51.15 L640.45,51.07 L640.92,50.99 L641.39,50.91 L641.86,50.83 L642.33,50.75 L642.80,50.67 L643.27,50.59 L643.74,50.52 L644.21,50.44 L644.68,50.36 L645.15,50.28 L645.62,50.21 L646.09,50.13 L646.56,50.05 L647.03,49.98 L647.50,49.90 L647.97,49.83 L648.44,49.75 L648.91,49.68 L649.38,49.61 L649.85,49.53 L650.32,49.46 L650.79,49.39 L651.26,49.31 L651.73,49.24 L652.20,49.17 L652.67,49.10 L653.14,49.02 L653.61,48.95 L654.08,48.88 L654.55,48.81 L655.02,48.74 L655.49,48.67 L655.96,48.60 L656.43,48.53 L656.90,48.46 L657.37,48.39 L657.84,48.32 L658.31,48.26 L658.78,48.19 L659.25,48.12 L659.72,48.05 L660.19,47.98 L660.66,47.92 L661.13,47.85 L661.60,47.78 L662.07,47.72 L662.54,47.65 L663.01,47.58 L663.48,47.52 L663.95,47.45 L664.42,47.39 L664.89,47.32 L665.36,47.26 L665.83,47.19 L666.30,47.13 L666.77,47.06 L667.24,47.00 L667.71,46.93 L668.18,46.87 L668.65,46.81 L669.12,46.74 L669.59,46.68 L670.06,46.62 L670.53,46.56 L671.00,46.49 L671.47,46.43 L671.94,46.37 L672.41,46.31 L672.88,46.25 L673.35,46.18 L673.82,46.12 L674.29,46.06 L674.76,46.00 L675.23,45.94 L675.70,45.88 L676.17,45.82 L676.64,45.76 L677.11,45.70 L677.58,45.64 L678.05,45.58 L678.52,45.52 L678.99,45.46 L679.46,45.40 L679.93,45.34 L680.40,45.29" stroke="#a77fd8" stroke-width="1.0" fill="none"/>
<path d="M586.40,60.46 L586.87,57.64 L587.34,56.69 L587.81,55.99 L588.28,55.41 L588.75,54.92 L589.22,54.47 L589.69,54.07 L590.16,53.71 L590.63,53.36 L591.10,53.04 L591.57,52.74 L592.04,52.45 L592.51,52.18 L592.98,51.92 L593.45,51.66 L593.92,51.42 L594.39,51.19 L594.86,50.96 L595.33,50.75 L595.80,50.54 L596.27,50.33 L596.74,50.13 L597.21,49.93 L597.68,49.75 L598.15,49.56 L598.62,49.38 L599.09,49.20 L599.56,49.03 L600.03,48.86 L600.50,48.69 L600.97,48.53 L601.44,48.37 L601.91,48.21 L602.38,48.06 L602.85,47.91 L603.32,47.76 L603.79,47.61 L604.26,47.46 L604.73,47.32 L605.20,47.18 L605.67,47.04 L606.14,46.91 L606.61,46.77 L607.08,46.64 L607.55,46.51 L608.02,46.38 L608.49,46.25 L608.96,46.12 L609.43,46.00 L609.90,45.88 L610.37,45.75 L610.84,45.63 L611.31,45.51 L611.78,45.40 L612.25,45.28 L612.72,45.17 L613.19,45.05 L613.66,44.94 L614.13,44.83 L614.60,44.72 L615.07,44.61 L615.54,44.50 L616.01,44.39 L616.48,44.28 L616.95,44.18 L617.42,44.07 L617.89,43.97 L618.36,43.87 L618.83,43.76 L619.30,43.66 L619.77,43.56 L620.24,43.46 L620.71,43.36 L621.18,43.27 L621.65,43.17 L622.12,43.07 L622.59,42.98 L623.06,42.88 L623.53,42.79 L624.00,42.69 L624.47,42.60 L624.94,42.51 L625.41,42.42 L625.88,42.33 L626.35,42.24 L626.82,42.15 L627.29,42.06 L627.76,41.97 L628.23,41.88 L628.70,41.79 L629.17,41.71 L629.64,41.62 L630.11,41.53 L630.58,41.45 L631.05,41.36 L631.52,41.28 L631.99,41.20 L632.46,41.11 L632.93,41.03 L633.40,40.95 L633.87,40.87 L634.34,40.78 L634.81,40.70 L635.28,40.62 L635.75,40.54 L636.22,40.46 L636.69,40.39 L637.16,40.31 L637.63,40.23 L638.10,40.15 L638.57,40.07 L639.04,40.00 L639.51,39.92 L639.98,39.84 L640.45,39.77 L640.92,39.69 L641.39,39.62 L641.86,39.54 L642.33,39.47 L642.80,39.39 L643.27,39.32 L643.74,39.25 L644.21,39.18 L644.68,39.10 L645.15,39.03 L645.62,38.96 L646.09,38.89 L646.56,38.82 L647.03,38.75 L647.50,38.67 L647.97,38.60 L648.44,38.53 L648.91,38.46 L649.38,38.40 L649.85,38.33 L650.32,38.26 L650.79,38.19 L651.26,38.12 L651.73,38.05 L652.20,37.99 L652.67,37.92 L653.14,37.85 L653.61,37.78 L654.08,37.72 L654.55,37.65 L655.02,37.59 L655.49,37.52 L655.96,37.46 L656.43,37.39 L656.90,37.33 L657.37,37.26 L657.84,37.20 L658.31,37.13 L658.78,37.07 L659.25,37.00 L659.72,36.94 L660.19,36.88 L660.66,36.81 L661.13,36.75 L661.60,36.69 L662.07,36.63 L662.54,36.57 L663.01,36.50 L663.48,36.44 L663.95,36.38 L664.42,36.32 L664.89,36.26 L665.36,36.20 L665.83,36.14 L666.30,36.08 L666.77,36.02 L667.24,35.96 L667.71,35.90 L668.18,35.84 L668.65,35.78 L669.12,35.72 L669.59,35.66 L670.06,35.60 L670.53,35.54 L671.00,35.48 L671.47,35.43 L671.94,35.37 L672.41,35.31 L672.88,35.25 L673.35,35.19 L673.82,35.14 L674.29,35.08 L674.76,35.02 L675.23,34.97 L675.70,34.91 L676.17,34.85 L676.64,34.80 L677.11,34.74 L677.58,34.69 L678.05,34.63 L678.52,34.57 L678.99,34.52 L679.46,34.46 L679.93,34.41 L680.40,34.35" stroke="#f4713d" stroke-width="1.0" fill="none"/>
<path d="M586.40,108.27 L586.87,106.76 L587.34,106.13 L587.81,105.65 L588.28,105.25 L588.75,104.89 L589.22,104.57 L589.69,104.27 L590.16,103.99 L590.63,103.73 L591.10,103.49 L591.57,103.26 L592.04,103.03 L592.51,102.82 L592.98,102.61 L593.45,102.41 L593.92,102.22 L594.39,102.04 L594.86,101.86 L595.33,101.68 L595.80,101.51 L596.27,101.34 L596.74,101.18 L597.21,101.02 L597.68,100.86 L598.15,100.71 L598.62,100.56 L599.09,100.41 L599.56,100.27 L600.03,100.13 L600.50,99.99 L600.97,99.85 L601.44,99.72 L601.91,99.59 L602.38,99.46 L602.85,99.33 L603.32,99.20 L603.79,99.07 L604.26,98.95 L604.73,98.83 L605.20,98.71 L605.67,98.59 L606.14,98.47 L606.61,98.36 L607.08,98.24 L607.55,98.13 L608.02,98.02 L608.49,97.91 L608.96,97.80 L609.43,97.69 L609.90,97.58 L610.37,97.47 L610.84,97.37 L611.31,97.26 L611.78,97.16 L612.25,97.06 L612.72,96.96 L613.19,96.86 L613.66,96.76 L614.13,96.66 L614.60,96.56 L615.07,96.46 L615.54,96.37 L616.01,96.27 L616.48,96.18 L616.95,96.08 L617.42,95.99 L617.89,95.90 L618.36,95.80 L618.83,95.71 L619.30,95.62 L619.77,95.53 L620.24,95.44 L620.71,95.35 L621.18,95.27 L621.65,95.18 L622.12,95.09 L622.59,95.01 L623.06,94.92 L623.53,94.83 L624.00,94.75 L624.47,94.67 L624.94,94.58 L625.41,94.50 L625.88,94.42 L626.35,94.33 L626.82,94.25 L627.29,94.17 L627.76,94.09 L628.23,94.01 L628.70,93.93 L629.17,93.85 L629.64,93.77 L630.11,93.69 L630.58,93.61 L631.05,93.54 L631.52,93.46 L631.99,93.38 L632.46,93.31 L632.93,93.23 L633.40,93.15 L633.87,93.08 L634.34,93.00 L634.81,92.93 L635.28,92.85 L635.75,92.78 L636.22,92.71 L636.69,92.63 L637.16,92.56 L637.63,92.49 L638.10,92.42 L638.57,92.34 L639.04,92.27 L639.51,92.20 L639.98,92.13 L640.45,92.06 L640.92,91.99 L641.39,91.92 L641.86,91.85 L642.33,91.78 L642.80,91.71 L643.27,91.64 L643.74,91.57 L644.21,91.51 L644.68,91.44 L645.15,91.37 L645.62,91.30 L646.09,91.24 L646.56,91.17 L647.03,91.10 L647.50,91.04 L647.97,90.97 L648.44,90.90 L648.91,90.84 L649.38,90.77 L649.85,90.71 L650.32,90.64 L650.79,90.58 L651.26,90.51 L651.73,90.45 L652.20,90.38 L652.67,90.32 L653.14,90.26 L653.61,90.19 L654.08,90.13 L654.55,90.07 L655.02,90.01 L655.49,89.94 L655.96,89.88 L656.43,89.82 L656.90,89.76 L657.37,89.70 L657.84,89.63 L658.31,89.57 L658.78,89.51 L659.25,89.45 L659.72,89.39 L660.19,89.33 L660.66,89.27 L661.13,89.21 L661.60,89.15 L662.07,89.09 L662.54,89.03 L663.01,88.97 L663.48,88.91 L663.95,88.85 L664.42,88.79 L664.89,88.74 L665.36,88.68 L665.83,88.62 L666.30,88.56 L666.77,88.50 L667.24,88.45 L667.71,88.39 L668.18,88.33 L668.65,88.27 L669.12,88.22 L669.59,88.16 L670.06,88.10 L670.53,88.05 L671.00,87.99 L671.47,87.93 L671.94,87.88 L672.41,87.82 L672.88,87.77 L673.35,87.71 L673.82,87.66 L674.29,87.60 L674.76,87.54 L675.23,87.49 L675.70,87.43 L676.17,87.38 L676.64,87.33 L677.11,87.27 L677.58,87.22 L678.05,87.16 L678.52,87.11 L678.99,87.05 L679.46,87.00 L679.93,86.95 L680.40,86.89" stroke="#3a8fd6" stroke-width="1.0" fill="none" stroke-dasharray="2.8,2.5"/>
<path d="M586.40,108.27 L586.87,106.76 L587.34,106.13 L587.81,105.65 L588.28,105.25 L588.75,104.89 L589.22,104.57 L589.69,104.27 L590.16,103.99 L590.63,103.73 L591.10,103.49 L591.57,103.26 L592.04,103.03 L592.51,102.82 L592.98,102.61 L593.45,102.41 L593.92,102.22 L594.39,102.04 L594.86,101.86 L595.33,101.68 L595.80,101.51 L596.27,101.34 L596.74,101.18 L597.21,101.02 L597.68,100.86 L598.15,100.71 L598.62,100.56 L599.09,100.41 L599.56,100.27 L600.03,100.13 L600.50,99.99 L600.97,99.85 L601.44,99.72 L601.91,99.59 L602.38,99.46 L602.85,99.33 L603.32,99.20 L603.79,99.07 L604.26,98.95 L604.73,98.83 L605.20,98.71 L605.67,98.59 L606.14,98.47 L606.61,98.36 L607.08,98.24 L607.55,98.13 L608.02,98.02 L608.49,97.91 L608.96,97.80 L609.43,97.69 L609.90,97.58 L610.37,97.47 L610.84,97.37 L611.31,97.26 L611.78,97.16 L612.25,97.06 L612.72,96.96 L613.19,96.86 L613.66,96.76 L614.13,96.66 L614.60,96.56 L615.07,96.46 L615.54,96.37 L616.01,96.27 L616.48,96.18 L616.95,96.08 L617.42,95.99 L617.89,95.90 L618.36,95.80 L618.83,95.71 L619.30,95.62 L619.77,95.53 L620.24,95.44 L620.71,95.35 L621.18,95.27 L621.65,95.18 L622.12,95.09 L622.59,95.01 L623.06,94.92 L623.53,94.83 L624.00,94.75 L624.47,94.67 L624.94,94.58 L625.41,94.50 L625.88,94.42 L626.35,94.33 L626.82,94.25 L627.29,94.17 L627.76,94.09 L628.23,94.01 L628.70,93.93 L629.17,93.85 L629.64,93.77 L630.11,93.69 L630.58,93.61 L631.05,93.54 L631.52,93.46 L631.99,93.38 L632.46,93.31 L632.93,93.23 L633.40,93.15 L633.87,93.08 L634.34,93.00 L634.81,92.93 L635.28,92.85 L635.75,92.78 L636.22,92.71 L636.69,92.63 L637.16,92.56 L637.63,92.49 L638.10,92.42 L638.57,92.34 L639.04,92.27 L639.51,92.20 L639.98,92.13 L640.45,92.06 L640.92,91.99 L641.39,91.92 L641.86,91.85 L642.33,91.78 L642.80,91.71 L643.27,91.64 L643.74,91.57 L644.21,91.51 L644.68,91.44 L645.15,91.37 L645.62,91.30 L646.09,91.24 L646.56,91.17 L647.03,91.10 L647.50,91.04 L647.97,90.97 L648.44,90.90 L648.91,90.84 L649.38,90.77 L649.85,90.71 L650.32,90.64 L650.79,90.58 L651.26,90.51 L651.73,90.45 L652.20,90.38 L652.67,90.32 L653.14,90.26 L653.61,90.19 L654.08,90.13 L654.55,90.07 L655.02,90.01 L655.49,89.94 L655.96,89.88 L656.43,89.82 L656.90,89.76 L657.37,89.70 L657.84,89.63 L658.31,89.57 L658.78,89.51 L659.25,89.45 L659.72,89.39 L660.19,89.33 L660.66,89.27 L661.13,89.21 L661.60,89.15 L662.07,89.09 L662.54,89.03 L663.01,88.97 L663.48,88.91 L663.95,88.85 L664.42,88.79 L664.89,88.74 L665.36,88.68 L665.83,88.62 L666.30,88.56 L666.77,88.50 L667.24,88.45 L667.71,88.39 L668.18,88.33 L668.65,88.27 L669.12,88.22 L669.59,88.16 L670.06,88.10 L670.53,88.05 L671.00,87.99 L671.47,87.93 L671.94,87.88 L672.41,87.82 L672.88,87.77 L673.35,87.71 L673.82,87.66 L674.29,87.60 L674.76,87.54 L675.23,87.49 L675.70,87.43 L676.17,87.38 L676.64,87.33 L677.11,87.27 L677.58,87.22 L678.05,87.16 L678.52,87.11 L678.99,87.05 L679.46,87.00 L679.93,86.95 L680.40,86.89" stroke="#a77fd8" stroke-width="1.0" fill="none" stroke-dasharray="2.8,2.5"/>
<path d="M586.40,108.27 L586.87,107.10 L587.34,106.62 L587.81,106.25 L588.28,105.94 L588.75,105.66 L589.22,105.41 L589.69,105.19 L590.16,104.97 L590.63,104.77 L591.10,104.58 L591.57,104.40 L592.04,104.23 L592.51,104.07 L592.98,103.91 L593.45,103.76 L593.92,103.61 L594.39,103.46 L594.86,103.32 L595.33,103.19 L595.80,103.06 L596.27,102.93 L596.74,102.80 L597.21,102.68 L597.68,102.56 L598.15,102.44 L598.62,102.33 L599.09,102.21 L599.56,102.10 L600.03,101.99 L600.50,101.89 L600.97,101.78 L601.44,101.68 L601.91,101.57 L602.38,101.47 L602.85,101.37 L603.32,101.28 L603.79,101.18 L604.26,101.08 L604.73,100.99 L605.20,100.90 L605.67,100.81 L606.14,100.72 L606.61,100.63 L607.08,100.54 L607.55,100.45 L608.02,100.36 L608.49,100.28 L608.96,100.19 L609.43,100.11 L609.90,100.03 L610.37,99.95 L610.84,99.87 L611.31,99.78 L611.78,99.71 L612.25,99.63 L612.72,99.55 L613.19,99.47 L613.66,99.39 L614.13,99.32 L614.60,99.24 L615.07,99.17 L615.54,99.09 L616.01,99.02 L616.48,98.95 L616.95,98.87 L617.42,98.80 L617.89,98.73 L618.36,98.66 L618.83,98.59 L619.30,98.52 L619.77,98.45 L620.24,98.38 L620.71,98.31 L621.18,98.24 L621.65,98.18 L622.12,98.11 L622.59,98.04 L623.06,97.98 L623.53,97.91 L624.00,97.85 L624.47,97.78 L624.94,97.72 L625.41,97.65 L625.88,97.59 L626.35,97.52 L626.82,97.46 L627.29,97.40 L627.76,97.34 L628.23,97.27 L628.70,97.21 L629.17,97.15 L629.64,97.09 L630.11,97.03 L630.58,96.97 L631.05,96.91 L631.52,96.85 L631.99,96.79 L632.46,96.73 L632.93,96.67 L633.40,96.62 L633.87,96.56 L634.34,96.50 L634.81,96.44 L635.28,96.38 L635.75,96.33 L636.22,96.27 L636.69,96.21 L637.16,96.16 L637.63,96.10 L638.10,96.05 L638.57,95.99 L639.04,95.94 L639.51,95.88 L639.98,95.83 L640.45,95.77 L640.92,95.72 L641.39,95.66 L641.86,95.61 L642.33,95.56 L642.80,95.50 L643.27,95.45 L643.74,95.40 L644.21,95.34 L644.68,95.29 L645.15,95.24 L645.62,95.19 L646.09,95.14 L646.56,95.08 L647.03,95.03 L647.50,94.98 L647.97,94.93 L648.44,94.88 L648.91,94.83 L649.38,94.78 L649.85,94.73 L650.32,94.68 L650.79,94.63 L651.26,94.58 L651.73,94.53 L652.20,94.48 L652.67,94.43 L653.14,94.38 L653.61,94.33 L654.08,94.28 L654.55,94.24 L655.02,94.19 L655.49,94.14 L655.96,94.09 L656.43,94.04 L656.90,94.00 L657.37,93.95 L657.84,93.90 L658.31,93.85 L658.78,93.81 L659.25,93.76 L659.72,93.71 L660.19,93.67 L660.66,93.62 L661.13,93.57 L661.60,93.53 L662.07,93.48 L662.54,93.44 L663.01,93.39 L663.48,93.35 L663.95,93.30 L664.42,93.25 L664.89,93.21 L665.36,93.16 L665.83,93.12 L666.30,93.07 L666.77,93.03 L667.24,92.99 L667.71,92.94 L668.18,92.90 L668.65,92.85 L669.12,92.81 L669.59,92.77 L670.06,92.72 L670.53,92.68 L671.00,92.63 L671.47,92.59 L671.94,92.55 L672.41,92.50 L672.88,92.46 L673.35,92.42 L673.82,92.38 L674.29,92.33 L674.76,92.29 L675.23,92.25 L675.70,92.21 L676.17,92.16 L676.64,92.12 L677.11,92.08 L677.58,92.04 L678.05,92.00 L678.52,91.95 L678.99,91.91 L679.46,91.87 L679.93,91.83 L680.40,91.79" stroke="#f4713d" stroke-width="1.0" fill="none" stroke-dasharray="2.8,2.5"/>
<text x="638.60" y="34.80" font-size="9.4" text-anchor="middle" fill="#333" font-weight="normal" >Real</text>
<text x="638.60" y="84.30" font-size="9.4" text-anchor="middle" fill="#333" font-weight="normal" >Imag</text>
<line x1="587.20" y1="5.10" x2="598.90" y2="5.10" stroke="#8fbde6" stroke-width="1.5" />
<text x="0" y="0" font-size="9.4" fill="#333" transform="translate(600.30 8.20) scale(1.0 1)">λ=</text>
<path d="M763 0L583 0L583 1115Q518 1055 413 995Q308 935 224 905L224 1075Q375 1145 488 1243Q601 1340 648 1430L763 1430Z" fill="#333" transform="translate(610.49 8.20) scale(0.00459 -0.00459)"/>
<text x="0" y="0" font-size="9.4" fill="#333" transform="translate(615.72 8.20) scale(1.0 1)">.0</text>
<line x1="627.30" y1="5.10" x2="639.00" y2="5.10" stroke="#c8b0e4" stroke-width="1.5" />
<path d="M763 0L583 0L583 1115Q518 1055 413 995Q308 935 224 905L224 1075Q375 1145 488 1243Q601 1340 648 1430L763 1430Z" fill="#333" transform="translate(640.50 8.20) scale(0.00459 -0.00459)"/>
<text x="0" y="0" font-size="9.4" fill="#333" transform="translate(645.73 8.20) scale(1.0 1)">.05</text>
<line x1="660.60" y1="5.10" x2="672.30" y2="5.10" stroke="#f7a98a" stroke-width="1.5" />
<path d="M763 0L583 0L583 1115Q518 1055 413 995Q308 935 224 905L224 1075Q375 1145 488 1243Q601 1340 648 1430L763 1430Z" fill="#333" transform="translate(674.00 8.20) scale(0.00459 -0.00459)"/>
<text x="0" y="0" font-size="9.4" fill="#333" transform="translate(679.23 8.20) scale(1.0 1)">.</text>
<path d="M763 0L583 0L583 1115Q518 1055 413 995Q308 935 224 905L224 1075Q375 1145 488 1243Q601 1340 648 1430L763 1430Z" fill="#333" transform="translate(681.84 8.20) scale(0.00459 -0.00459)"/>
<rect x="586.40" y="142.80" width="94.00" height="98.40" fill="none" stroke="#555" stroke-width="1"/>
<line x1="584.80" y1="224.80" x2="586.40" y2="224.80" stroke="#555" stroke-width="1" />
<line x1="584.80" y1="192.00" x2="586.40" y2="192.00" stroke="#555" stroke-width="1" />
<line x1="584.80" y1="159.20" x2="586.40" y2="159.20" stroke="#555" stroke-width="1" />
<line x1="583.90" y1="241.20" x2="586.40" y2="241.20" stroke="#555" stroke-width="1" />
<text x="0" y="0" font-size="9.9" fill="#333" transform="translate(577.57 244.61) scale(0.95 1)">0</text>
<line x1="583.90" y1="208.40" x2="586.40" y2="208.40" stroke="#555" stroke-width="1" />
<text x="0" y="0" font-size="9.9" fill="#333" transform="translate(567.11 211.81) scale(0.95 1)">200</text>
<line x1="583.90" y1="175.60" x2="586.40" y2="175.60" stroke="#555" stroke-width="1" />
<text x="0" y="0" font-size="9.9" fill="#333" transform="translate(567.11 179.01) scale(0.95 1)">400</text>
<line x1="583.90" y1="142.80" x2="586.40" y2="142.80" stroke="#555" stroke-width="1" />
<text x="0" y="0" font-size="9.9" fill="#333" transform="translate(567.11 146.21) scale(0.95 1)">600</text>
<line x1="586.40" y1="241.20" x2="586.40" y2="243.20" stroke="#555" stroke-width="1" />
<text x="0" y="0" font-size="9.9" fill="#333" transform="translate(583.78 253.41) scale(0.95 1)">0</text>
<line x1="605.20" y1="241.20" x2="605.20" y2="243.20" stroke="#555" stroke-width="1" />
<text x="0" y="0" font-size="9.9" fill="#333" transform="translate(602.58 253.41) scale(0.95 1)">4</text>
<line x1="624.00" y1="241.20" x2="624.00" y2="243.20" stroke="#555" stroke-width="1" />
<text x="0" y="0" font-size="9.9" fill="#333" transform="translate(621.38 253.41) scale(0.95 1)">8</text>
<line x1="642.80" y1="241.20" x2="642.80" y2="243.20" stroke="#555" stroke-width="1" />
<path d="M763 0L583 0L583 1115Q518 1055 413 995Q308 935 224 905L224 1075Q375 1145 488 1243Q601 1340 648 1430L763 1430Z" fill="#333" transform="translate(637.57 253.41) scale(0.00459 -0.00483)"/>
<text x="0" y="0" font-size="9.9" fill="#333" transform="translate(642.80 253.41) scale(0.95 1)">2</text>
<line x1="661.60" y1="241.20" x2="661.60" y2="243.20" stroke="#555" stroke-width="1" />
<path d="M763 0L583 0L583 1115Q518 1055 413 995Q308 935 224 905L224 1075Q375 1145 488 1243Q601 1340 648 1430L763 1430Z" fill="#333" transform="translate(656.37 253.41) scale(0.00459 -0.00483)"/>
<text x="0" y="0" font-size="9.9" fill="#333" transform="translate(661.60 253.41) scale(0.95 1)">6</text>
<line x1="680.40" y1="241.20" x2="680.40" y2="243.20" stroke="#555" stroke-width="1" />
<text x="0" y="0" font-size="9.9" fill="#333" transform="translate(675.17 253.41) scale(0.95 1)">20</text>
<text x="634.90" y="264.23" font-size="9.4" text-anchor="middle" fill="#333" font-weight="normal" >Frequency (kHz)</text>
<text x="550.20" y="137.70" font-size="14.5" text-anchor="start" fill="#111" font-weight="bold" >g</text>
<text x="0" y="0" font-size="10.0" text-anchor="middle" fill="#333" font-weight="normal" transform="translate(563.30 191.65) rotate(-90) scale(1.1 1)" >2(<tspan font-style="italic">β</tspan>+<tspan font-style="italic">γ</tspan> ) G (kPa)</text>
<path d="M586.40,218.40 L586.87,216.86 L587.34,216.31 L587.81,215.90 L588.28,215.56 L588.75,215.27 L589.22,215.00 L589.69,214.76 L590.16,214.54 L590.63,214.34 L591.10,214.15 L591.57,213.96 L592.04,213.79 L592.51,213.63 L592.98,213.47 L593.45,213.31 L593.92,213.17 L594.39,213.03 L594.86,212.89 L595.33,212.76 L595.80,212.63 L596.27,212.50 L596.74,212.38 L597.21,212.26 L597.68,212.15 L598.15,212.03 L598.62,211.92 L599.09,211.81 L599.56,211.71 L600.03,211.60 L600.50,211.50 L600.97,211.40 L601.44,211.30 L601.91,211.20 L602.38,211.11 L602.85,211.02 L603.32,210.92 L603.79,210.83 L604.26,210.74 L604.73,210.66 L605.20,210.57 L605.67,210.48 L606.14,210.40 L606.61,210.32 L607.08,210.23 L607.55,210.15 L608.02,210.07 L608.49,209.99 L608.96,209.91 L609.43,209.84 L609.90,209.76 L610.37,209.68 L610.84,209.61 L611.31,209.54 L611.78,209.46 L612.25,209.39 L612.72,209.32 L613.19,209.25 L613.66,209.18 L614.13,209.11 L614.60,209.04 L615.07,208.97 L615.54,208.90 L616.01,208.83 L616.48,208.77 L616.95,208.70 L617.42,208.64 L617.89,208.57 L618.36,208.51 L618.83,208.44 L619.30,208.38 L619.77,208.32 L620.24,208.26 L620.71,208.19 L621.18,208.13 L621.65,208.07 L622.12,208.01 L622.59,207.95 L623.06,207.89 L623.53,207.83 L624.00,207.77 L624.47,207.72 L624.94,207.66 L625.41,207.60 L625.88,207.54 L626.35,207.49 L626.82,207.43 L627.29,207.37 L627.76,207.32 L628.23,207.26 L628.70,207.21 L629.17,207.15 L629.64,207.10 L630.11,207.05 L630.58,206.99 L631.05,206.94 L631.52,206.89 L631.99,206.83 L632.46,206.78 L632.93,206.73 L633.40,206.68 L633.87,206.63 L634.34,206.58 L634.81,206.52 L635.28,206.47 L635.75,206.42 L636.22,206.37 L636.69,206.32 L637.16,206.27 L637.63,206.22 L638.10,206.18 L638.57,206.13 L639.04,206.08 L639.51,206.03 L639.98,205.98 L640.45,205.93 L640.92,205.89 L641.39,205.84 L641.86,205.79 L642.33,205.74 L642.80,205.70 L643.27,205.65 L643.74,205.61 L644.21,205.56 L644.68,205.51 L645.15,205.47 L645.62,205.42 L646.09,205.38 L646.56,205.33 L647.03,205.29 L647.50,205.24 L647.97,205.20 L648.44,205.15 L648.91,205.11 L649.38,205.07 L649.85,205.02 L650.32,204.98 L650.79,204.94 L651.26,204.89 L651.73,204.85 L652.20,204.81 L652.67,204.76 L653.14,204.72 L653.61,204.68 L654.08,204.64 L654.55,204.59 L655.02,204.55 L655.49,204.51 L655.96,204.47 L656.43,204.43 L656.90,204.39 L657.37,204.35 L657.84,204.31 L658.31,204.26 L658.78,204.22 L659.25,204.18 L659.72,204.14 L660.19,204.10 L660.66,204.06 L661.13,204.02 L661.60,203.98 L662.07,203.94 L662.54,203.90 L663.01,203.87 L663.48,203.83 L663.95,203.79 L664.42,203.75 L664.89,203.71 L665.36,203.67 L665.83,203.63 L666.30,203.59 L666.77,203.56 L667.24,203.52 L667.71,203.48 L668.18,203.44 L668.65,203.40 L669.12,203.37 L669.59,203.33 L670.06,203.29 L670.53,203.25 L671.00,203.22 L671.47,203.18 L671.94,203.14 L672.41,203.11 L672.88,203.07 L673.35,203.03 L673.82,203.00 L674.29,202.96 L674.76,202.92 L675.23,202.89 L675.70,202.85 L676.17,202.82 L676.64,202.78 L677.11,202.74 L677.58,202.71 L678.05,202.67 L678.52,202.64 L678.99,202.60 L679.46,202.57 L679.93,202.53 L680.40,202.50" stroke="#3a8fd6" stroke-width="1.0" fill="none"/>
<path d="M586.40,207.42 L586.87,204.74 L587.34,203.84 L587.81,203.17 L588.28,202.63 L588.75,202.16 L589.22,201.74 L589.69,201.36 L590.16,201.01 L590.63,200.68 L591.10,200.38 L591.57,200.09 L592.04,199.82 L592.51,199.56 L592.98,199.31 L593.45,199.07 L593.92,198.84 L594.39,198.62 L594.86,198.41 L595.33,198.20 L595.80,198.00 L596.27,197.81 L596.74,197.62 L597.21,197.43 L597.68,197.25 L598.15,197.08 L598.62,196.90 L599.09,196.74 L599.56,196.57 L600.03,196.41 L600.50,196.25 L600.97,196.10 L601.44,195.95 L601.91,195.80 L602.38,195.65 L602.85,195.51 L603.32,195.36 L603.79,195.23 L604.26,195.09 L604.73,194.95 L605.20,194.82 L605.67,194.69 L606.14,194.56 L606.61,194.43 L607.08,194.30 L607.55,194.18 L608.02,194.06 L608.49,193.94 L608.96,193.82 L609.43,193.70 L609.90,193.58 L610.37,193.47 L610.84,193.35 L611.31,193.24 L611.78,193.13 L612.25,193.02 L612.72,192.91 L613.19,192.80 L613.66,192.69 L614.13,192.59 L614.60,192.48 L615.07,192.38 L615.54,192.27 L616.01,192.17 L616.48,192.07 L616.95,191.97 L617.42,191.87 L617.89,191.77 L618.36,191.67 L618.83,191.58 L619.30,191.48 L619.77,191.39 L620.24,191.29 L620.71,191.20 L621.18,191.11 L621.65,191.01 L622.12,190.92 L622.59,190.83 L623.06,190.74 L623.53,190.65 L624.00,190.56 L624.47,190.47 L624.94,190.39 L625.41,190.30 L625.88,190.21 L626.35,190.13 L626.82,190.04 L627.29,189.96 L627.76,189.87 L628.23,189.79 L628.70,189.71 L629.17,189.63 L629.64,189.54 L630.11,189.46 L630.58,189.38 L631.05,189.30 L631.52,189.22 L631.99,189.14 L632.46,189.06 L632.93,188.98 L633.40,188.91 L633.87,188.83 L634.34,188.75 L634.81,188.68 L635.28,188.60 L635.75,188.52 L636.22,188.45 L636.69,188.37 L637.16,188.30 L637.63,188.22 L638.10,188.15 L638.57,188.08 L639.04,188.00 L639.51,187.93 L639.98,187.86 L640.45,187.79 L640.92,187.72 L641.39,187.65 L641.86,187.57 L642.33,187.50 L642.80,187.43 L643.27,187.36 L643.74,187.29 L644.21,187.23 L644.68,187.16 L645.15,187.09 L645.62,187.02 L646.09,186.95 L646.56,186.88 L647.03,186.82 L647.50,186.75 L647.97,186.68 L648.44,186.62 L648.91,186.55 L649.38,186.49 L649.85,186.42 L650.32,186.36 L650.79,186.29 L651.26,186.23 L651.73,186.16 L652.20,186.10 L652.67,186.03 L653.14,185.97 L653.61,185.91 L654.08,185.84 L654.55,185.78 L655.02,185.72 L655.49,185.66 L655.96,185.59 L656.43,185.53 L656.90,185.47 L657.37,185.41 L657.84,185.35 L658.31,185.29 L658.78,185.23 L659.25,185.17 L659.72,185.11 L660.19,185.05 L660.66,184.99 L661.13,184.93 L661.60,184.87 L662.07,184.81 L662.54,184.75 L663.01,184.69 L663.48,184.63 L663.95,184.57 L664.42,184.52 L664.89,184.46 L665.36,184.40 L665.83,184.34 L666.30,184.29 L666.77,184.23 L667.24,184.17 L667.71,184.12 L668.18,184.06 L668.65,184.00 L669.12,183.95 L669.59,183.89 L670.06,183.83 L670.53,183.78 L671.00,183.72 L671.47,183.67 L671.94,183.61 L672.41,183.56 L672.88,183.50 L673.35,183.45 L673.82,183.40 L674.29,183.34 L674.76,183.29 L675.23,183.23 L675.70,183.18 L676.17,183.13 L676.64,183.07 L677.11,183.02 L677.58,182.97 L678.05,182.91 L678.52,182.86 L678.99,182.81 L679.46,182.76 L679.93,182.70 L680.40,182.65" stroke="#a77fd8" stroke-width="1.0" fill="none"/>
<path d="M586.40,194.79 L586.87,191.93 L587.34,191.02 L587.81,190.36 L588.28,189.81 L588.75,189.35 L589.22,188.94 L589.69,188.57 L590.16,188.23 L590.63,187.91 L591.10,187.61 L591.57,187.33 L592.04,187.07 L592.51,186.82 L592.98,186.58 L593.45,186.35 L593.92,186.13 L594.39,185.92 L594.86,185.71 L595.33,185.51 L595.80,185.32 L596.27,185.13 L596.74,184.95 L597.21,184.78 L597.68,184.60 L598.15,184.44 L598.62,184.27 L599.09,184.11 L599.56,183.96 L600.03,183.80 L600.50,183.65 L600.97,183.51 L601.44,183.36 L601.91,183.22 L602.38,183.08 L602.85,182.95 L603.32,182.81 L603.79,182.68 L604.26,182.55 L604.73,182.42 L605.20,182.30 L605.67,182.17 L606.14,182.05 L606.61,181.93 L607.08,181.81 L607.55,181.69 L608.02,181.58 L608.49,181.46 L608.96,181.35 L609.43,181.24 L609.90,181.13 L610.37,181.02 L610.84,180.91 L611.31,180.81 L611.78,180.70 L612.25,180.60 L612.72,180.50 L613.19,180.40 L613.66,180.29 L614.13,180.20 L614.60,180.10 L615.07,180.00 L615.54,179.90 L616.01,179.81 L616.48,179.71 L616.95,179.62 L617.42,179.53 L617.89,179.43 L618.36,179.34 L618.83,179.25 L619.30,179.16 L619.77,179.07 L620.24,178.99 L620.71,178.90 L621.18,178.81 L621.65,178.73 L622.12,178.64 L622.59,178.56 L623.06,178.47 L623.53,178.39 L624.00,178.31 L624.47,178.22 L624.94,178.14 L625.41,178.06 L625.88,177.98 L626.35,177.90 L626.82,177.82 L627.29,177.74 L627.76,177.66 L628.23,177.59 L628.70,177.51 L629.17,177.43 L629.64,177.36 L630.11,177.28 L630.58,177.21 L631.05,177.13 L631.52,177.06 L631.99,176.98 L632.46,176.91 L632.93,176.84 L633.40,176.77 L633.87,176.69 L634.34,176.62 L634.81,176.55 L635.28,176.48 L635.75,176.41 L636.22,176.34 L636.69,176.27 L637.16,176.20 L637.63,176.13 L638.10,176.07 L638.57,176.00 L639.04,175.93 L639.51,175.86 L639.98,175.80 L640.45,175.73 L640.92,175.66 L641.39,175.60 L641.86,175.53 L642.33,175.47 L642.80,175.40 L643.27,175.34 L643.74,175.27 L644.21,175.21 L644.68,175.15 L645.15,175.08 L645.62,175.02 L646.09,174.96 L646.56,174.90 L647.03,174.83 L647.50,174.77 L647.97,174.71 L648.44,174.65 L648.91,174.59 L649.38,174.53 L649.85,174.47 L650.32,174.41 L650.79,174.35 L651.26,174.29 L651.73,174.23 L652.20,174.17 L652.67,174.11 L653.14,174.05 L653.61,173.99 L654.08,173.94 L654.55,173.88 L655.02,173.82 L655.49,173.76 L655.96,173.71 L656.43,173.65 L656.90,173.59 L657.37,173.54 L657.84,173.48 L658.31,173.42 L658.78,173.37 L659.25,173.31 L659.72,173.26 L660.19,173.20 L660.66,173.15 L661.13,173.09 L661.60,173.04 L662.07,172.98 L662.54,172.93 L663.01,172.88 L663.48,172.82 L663.95,172.77 L664.42,172.72 L664.89,172.66 L665.36,172.61 L665.83,172.56 L666.30,172.50 L666.77,172.45 L667.24,172.40 L667.71,172.35 L668.18,172.30 L668.65,172.24 L669.12,172.19 L669.59,172.14 L670.06,172.09 L670.53,172.04 L671.00,171.99 L671.47,171.94 L671.94,171.89 L672.41,171.84 L672.88,171.79 L673.35,171.74 L673.82,171.69 L674.29,171.64 L674.76,171.59 L675.23,171.54 L675.70,171.49 L676.17,171.44 L676.64,171.39 L677.11,171.34 L677.58,171.30 L678.05,171.25 L678.52,171.20 L678.99,171.15 L679.46,171.10 L679.93,171.06 L680.40,171.01" stroke="#f4713d" stroke-width="1.0" fill="none"/>
<path d="M586.40,239.89 L586.87,239.28 L587.34,238.97 L587.81,238.71 L588.28,238.49 L588.75,238.29 L589.22,238.11 L589.69,237.94 L590.16,237.77 L590.63,237.62 L591.10,237.47 L591.57,237.33 L592.04,237.19 L592.51,237.06 L592.98,236.93 L593.45,236.80 L593.92,236.68 L594.39,236.56 L594.86,236.45 L595.33,236.33 L595.80,236.22 L596.27,236.11 L596.74,236.01 L597.21,235.90 L597.68,235.80 L598.15,235.70 L598.62,235.60 L599.09,235.50 L599.56,235.40 L600.03,235.31 L600.50,235.21 L600.97,235.12 L601.44,235.03 L601.91,234.94 L602.38,234.85 L602.85,234.76 L603.32,234.67 L603.79,234.58 L604.26,234.50 L604.73,234.41 L605.20,234.33 L605.67,234.25 L606.14,234.17 L606.61,234.08 L607.08,234.00 L607.55,233.92 L608.02,233.84 L608.49,233.77 L608.96,233.69 L609.43,233.61 L609.90,233.53 L610.37,233.46 L610.84,233.38 L611.31,233.31 L611.78,233.23 L612.25,233.16 L612.72,233.09 L613.19,233.02 L613.66,232.94 L614.13,232.87 L614.60,232.80 L615.07,232.73 L615.54,232.66 L616.01,232.59 L616.48,232.52 L616.95,232.45 L617.42,232.38 L617.89,232.32 L618.36,232.25 L618.83,232.18 L619.30,232.11 L619.77,232.05 L620.24,231.98 L620.71,231.92 L621.18,231.85 L621.65,231.78 L622.12,231.72 L622.59,231.66 L623.06,231.59 L623.53,231.53 L624.00,231.46 L624.47,231.40 L624.94,231.34 L625.41,231.28 L625.88,231.21 L626.35,231.15 L626.82,231.09 L627.29,231.03 L627.76,230.97 L628.23,230.91 L628.70,230.85 L629.17,230.79 L629.64,230.73 L630.11,230.67 L630.58,230.61 L631.05,230.55 L631.52,230.49 L631.99,230.43 L632.46,230.37 L632.93,230.32 L633.40,230.26 L633.87,230.20 L634.34,230.14 L634.81,230.09 L635.28,230.03 L635.75,229.97 L636.22,229.92 L636.69,229.86 L637.16,229.80 L637.63,229.75 L638.10,229.69 L638.57,229.64 L639.04,229.58 L639.51,229.53 L639.98,229.47 L640.45,229.42 L640.92,229.36 L641.39,229.31 L641.86,229.25 L642.33,229.20 L642.80,229.15 L643.27,229.09 L643.74,229.04 L644.21,228.98 L644.68,228.93 L645.15,228.88 L645.62,228.83 L646.09,228.77 L646.56,228.72 L647.03,228.67 L647.50,228.62 L647.97,228.56 L648.44,228.51 L648.91,228.46 L649.38,228.41 L649.85,228.36 L650.32,228.31 L650.79,228.26 L651.26,228.21 L651.73,228.15 L652.20,228.10 L652.67,228.05 L653.14,228.00 L653.61,227.95 L654.08,227.90 L654.55,227.85 L655.02,227.80 L655.49,227.75 L655.96,227.70 L656.43,227.66 L656.90,227.61 L657.37,227.56 L657.84,227.51 L658.31,227.46 L658.78,227.41 L659.25,227.36 L659.72,227.31 L660.19,227.27 L660.66,227.22 L661.13,227.17 L661.60,227.12 L662.07,227.07 L662.54,227.03 L663.01,226.98 L663.48,226.93 L663.95,226.88 L664.42,226.84 L664.89,226.79 L665.36,226.74 L665.83,226.69 L666.30,226.65 L666.77,226.60 L667.24,226.55 L667.71,226.51 L668.18,226.46 L668.65,226.42 L669.12,226.37 L669.59,226.32 L670.06,226.28 L670.53,226.23 L671.00,226.19 L671.47,226.14 L671.94,226.10 L672.41,226.05 L672.88,226.00 L673.35,225.96 L673.82,225.91 L674.29,225.87 L674.76,225.82 L675.23,225.78 L675.70,225.73 L676.17,225.69 L676.64,225.65 L677.11,225.60 L677.58,225.56 L678.05,225.51 L678.52,225.47 L678.99,225.42 L679.46,225.38 L679.93,225.34 L680.40,225.29" stroke="#3a8fd6" stroke-width="1.0" fill="none" stroke-dasharray="2.8,2.5"/>
<path d="M586.40,237.59 L586.87,236.44 L587.34,235.97 L587.81,235.60 L588.28,235.30 L588.75,235.02 L589.22,234.78 L589.69,234.55 L590.16,234.34 L590.63,234.15 L591.10,233.96 L591.57,233.78 L592.04,233.62 L592.51,233.45 L592.98,233.30 L593.45,233.15 L593.92,233.00 L594.39,232.86 L594.86,232.72 L595.33,232.59 L595.80,232.46 L596.27,232.33 L596.74,232.21 L597.21,232.09 L597.68,231.97 L598.15,231.85 L598.62,231.74 L599.09,231.63 L599.56,231.52 L600.03,231.41 L600.50,231.30 L600.97,231.20 L601.44,231.10 L601.91,231.00 L602.38,230.90 L602.85,230.80 L603.32,230.70 L603.79,230.61 L604.26,230.51 L604.73,230.42 L605.20,230.33 L605.67,230.24 L606.14,230.15 L606.61,230.06 L607.08,229.98 L607.55,229.89 L608.02,229.81 L608.49,229.72 L608.96,229.64 L609.43,229.56 L609.90,229.47 L610.37,229.39 L610.84,229.31 L611.31,229.23 L611.78,229.16 L612.25,229.08 L612.72,229.00 L613.19,228.92 L613.66,228.85 L614.13,228.77 L614.60,228.70 L615.07,228.63 L615.54,228.55 L616.01,228.48 L616.48,228.41 L616.95,228.34 L617.42,228.27 L617.89,228.19 L618.36,228.12 L618.83,228.06 L619.30,227.99 L619.77,227.92 L620.24,227.85 L620.71,227.78 L621.18,227.72 L621.65,227.65 L622.12,227.58 L622.59,227.52 L623.06,227.45 L623.53,227.39 L624.00,227.32 L624.47,227.26 L624.94,227.20 L625.41,227.13 L625.88,227.07 L626.35,227.01 L626.82,226.95 L627.29,226.88 L627.76,226.82 L628.23,226.76 L628.70,226.70 L629.17,226.64 L629.64,226.58 L630.11,226.52 L630.58,226.46 L631.05,226.40 L631.52,226.34 L631.99,226.28 L632.46,226.23 L632.93,226.17 L633.40,226.11 L633.87,226.05 L634.34,226.00 L634.81,225.94 L635.28,225.88 L635.75,225.83 L636.22,225.77 L636.69,225.72 L637.16,225.66 L637.63,225.61 L638.10,225.55 L638.57,225.50 L639.04,225.44 L639.51,225.39 L639.98,225.33 L640.45,225.28 L640.92,225.23 L641.39,225.17 L641.86,225.12 L642.33,225.07 L642.80,225.02 L643.27,224.96 L643.74,224.91 L644.21,224.86 L644.68,224.81 L645.15,224.76 L645.62,224.71 L646.09,224.65 L646.56,224.60 L647.03,224.55 L647.50,224.50 L647.97,224.45 L648.44,224.40 L648.91,224.35 L649.38,224.30 L649.85,224.25 L650.32,224.20 L650.79,224.15 L651.26,224.11 L651.73,224.06 L652.20,224.01 L652.67,223.96 L653.14,223.91 L653.61,223.86 L654.08,223.82 L654.55,223.77 L655.02,223.72 L655.49,223.67 L655.96,223.63 L656.43,223.58 L656.90,223.53 L657.37,223.48 L657.84,223.44 L658.31,223.39 L658.78,223.34 L659.25,223.30 L659.72,223.25 L660.19,223.21 L660.66,223.16 L661.13,223.12 L661.60,223.07 L662.07,223.02 L662.54,222.98 L663.01,222.93 L663.48,222.89 L663.95,222.84 L664.42,222.80 L664.89,222.76 L665.36,222.71 L665.83,222.67 L666.30,222.62 L666.77,222.58 L667.24,222.54 L667.71,222.49 L668.18,222.45 L668.65,222.40 L669.12,222.36 L669.59,222.32 L670.06,222.27 L670.53,222.23 L671.00,222.19 L671.47,222.15 L671.94,222.10 L672.41,222.06 L672.88,222.02 L673.35,221.98 L673.82,221.93 L674.29,221.89 L674.76,221.85 L675.23,221.81 L675.70,221.77 L676.17,221.73 L676.64,221.68 L677.11,221.64 L677.58,221.60 L678.05,221.56 L678.52,221.52 L678.99,221.48 L679.46,221.44 L679.93,221.40 L680.40,221.36" stroke="#a77fd8" stroke-width="1.0" fill="none" stroke-dasharray="2.8,2.5"/>
<path d="M586.40,237.59 L586.87,236.65 L587.34,236.26 L587.81,235.97 L588.28,235.71 L588.75,235.49 L589.22,235.29 L589.69,235.11 L590.16,234.94 L590.63,234.77 L591.10,234.62 L591.57,234.48 L592.04,234.34 L592.51,234.21 L592.98,234.08 L593.45,233.95 L593.92,233.83 L594.39,233.72 L594.86,233.61 L595.33,233.50 L595.80,233.39 L596.27,233.29 L596.74,233.19 L597.21,233.09 L597.68,232.99 L598.15,232.90 L598.62,232.80 L599.09,232.71 L599.56,232.62 L600.03,232.53 L600.50,232.45 L600.97,232.36 L601.44,232.28 L601.91,232.20 L602.38,232.11 L602.85,232.03 L603.32,231.96 L603.79,231.88 L604.26,231.80 L604.73,231.73 L605.20,231.65 L605.67,231.58 L606.14,231.50 L606.61,231.43 L607.08,231.36 L607.55,231.29 L608.02,231.22 L608.49,231.15 L608.96,231.08 L609.43,231.02 L609.90,230.95 L610.37,230.88 L610.84,230.82 L611.31,230.75 L611.78,230.69 L612.25,230.63 L612.72,230.56 L613.19,230.50 L613.66,230.44 L614.13,230.38 L614.60,230.32 L615.07,230.26 L615.54,230.20 L616.01,230.14 L616.48,230.08 L616.95,230.02 L617.42,229.96 L617.89,229.90 L618.36,229.85 L618.83,229.79 L619.30,229.73 L619.77,229.68 L620.24,229.62 L620.71,229.57 L621.18,229.51 L621.65,229.46 L622.12,229.40 L622.59,229.35 L623.06,229.30 L623.53,229.24 L624.00,229.19 L624.47,229.14 L624.94,229.09 L625.41,229.03 L625.88,228.98 L626.35,228.93 L626.82,228.88 L627.29,228.83 L627.76,228.78 L628.23,228.73 L628.70,228.68 L629.17,228.63 L629.64,228.58 L630.11,228.53 L630.58,228.48 L631.05,228.44 L631.52,228.39 L631.99,228.34 L632.46,228.29 L632.93,228.25 L633.40,228.20 L633.87,228.15 L634.34,228.11 L634.81,228.06 L635.28,228.01 L635.75,227.97 L636.22,227.92 L636.69,227.88 L637.16,227.83 L637.63,227.79 L638.10,227.74 L638.57,227.70 L639.04,227.65 L639.51,227.61 L639.98,227.56 L640.45,227.52 L640.92,227.48 L641.39,227.43 L641.86,227.39 L642.33,227.35 L642.80,227.30 L643.27,227.26 L643.74,227.22 L644.21,227.17 L644.68,227.13 L645.15,227.09 L645.62,227.05 L646.09,227.01 L646.56,226.96 L647.03,226.92 L647.50,226.88 L647.97,226.84 L648.44,226.80 L648.91,226.76 L649.38,226.72 L649.85,226.68 L650.32,226.64 L650.79,226.60 L651.26,226.56 L651.73,226.52 L652.20,226.48 L652.67,226.44 L653.14,226.40 L653.61,226.36 L654.08,226.32 L654.55,226.28 L655.02,226.24 L655.49,226.20 L655.96,226.16 L656.43,226.13 L656.90,226.09 L657.37,226.05 L657.84,226.01 L658.31,225.97 L658.78,225.94 L659.25,225.90 L659.72,225.86 L660.19,225.82 L660.66,225.78 L661.13,225.75 L661.60,225.71 L662.07,225.67 L662.54,225.64 L663.01,225.60 L663.48,225.56 L663.95,225.53 L664.42,225.49 L664.89,225.45 L665.36,225.42 L665.83,225.38 L666.30,225.34 L666.77,225.31 L667.24,225.27 L667.71,225.24 L668.18,225.20 L668.65,225.17 L669.12,225.13 L669.59,225.10 L670.06,225.06 L670.53,225.02 L671.00,224.99 L671.47,224.95 L671.94,224.92 L672.41,224.89 L672.88,224.85 L673.35,224.82 L673.82,224.78 L674.29,224.75 L674.76,224.71 L675.23,224.68 L675.70,224.64 L676.17,224.61 L676.64,224.58 L677.11,224.54 L677.58,224.51 L678.05,224.48 L678.52,224.44 L678.99,224.41 L679.46,224.37 L679.93,224.34 L680.40,224.31" stroke="#f4713d" stroke-width="1.0" fill="none" stroke-dasharray="2.8,2.5"/>
<text x="638.90" y="169.80" font-size="9.4" text-anchor="middle" fill="#333" font-weight="normal" >Real</text>
<text x="638.80" y="219.50" font-size="9.4" text-anchor="middle" fill="#333" font-weight="normal" >Imag</text>
</svg>
</body></html>
